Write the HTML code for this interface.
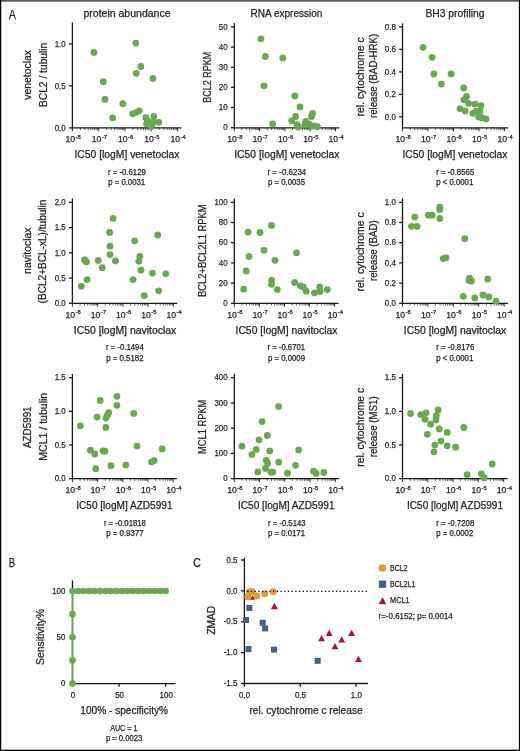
<!DOCTYPE html><html><head><meta charset="utf-8"><style>html,body{margin:0;padding:0;background:#fff;width:520px;height:751px;overflow:hidden}svg{display:block;will-change:transform;filter:blur(0.35px)}</style></head><body><svg width="520" height="751" viewBox="0 0 520 751" font-family="&quot;Liberation Sans&quot;, sans-serif" fill="#231f20" stroke="#231f20" stroke-width="0.25">
<rect x="0" y="0" width="520" height="751" fill="#fff" stroke="none"/>
<g stroke="none"><rect x="0" y="0" width="520" height="1.7" fill="#5c5c5c"/><rect x="0" y="0" width="1.25" height="751" fill="#000"/><rect x="518.9" y="0" width="1.1" height="751" fill="#000"/><rect x="0" y="749.7" width="520" height="1.3" fill="#000"/></g>
<text x="8.8" y="19.3" font-size="13.2" textLength="7.2" lengthAdjust="spacingAndGlyphs" stroke-width="0.25">A</text>
<text x="8.7" y="566.8" font-size="13.2" textLength="6.4" lengthAdjust="spacingAndGlyphs" stroke-width="0.25">B</text>
<text x="193.2" y="567.0" font-size="13.2" textLength="7.6" lengthAdjust="spacingAndGlyphs" stroke-width="0.25">C</text>
<text x="83.5" y="17.1" font-size="10.4" textLength="87" lengthAdjust="spacingAndGlyphs">protein abundance</text>
<text x="250.6" y="17.1" font-size="10.4" textLength="71.7" lengthAdjust="spacingAndGlyphs">RNA expression</text>
<text x="425.4" y="17.1" font-size="10.4" textLength="59.2" lengthAdjust="spacingAndGlyphs">BH3 profiling</text>
<line x1="72.4" y1="22.4" x2="72.4" y2="128.45000000000002" stroke="#1a1a1a" stroke-width="1.3"/>
<line x1="69.0" y1="43.9" x2="72.4" y2="43.9" stroke="#1a1a1a" stroke-width="1.3"/>
<text x="65.7" y="46.6" font-size="9.4" text-anchor="end" textLength="11.0" lengthAdjust="spacingAndGlyphs">1.0</text>
<line x1="69.0" y1="85.9" x2="72.4" y2="85.9" stroke="#1a1a1a" stroke-width="1.3"/>
<text x="65.7" y="88.60000000000001" font-size="9.4" text-anchor="end" textLength="11.0" lengthAdjust="spacingAndGlyphs">0.5</text>
<line x1="69.0" y1="127.9" x2="72.4" y2="127.9" stroke="#1a1a1a" stroke-width="1.3"/>
<text x="65.7" y="130.6" font-size="9.4" text-anchor="end" textLength="11.0" lengthAdjust="spacingAndGlyphs">0.0</text>
<line x1="71.85000000000001" y1="127.9" x2="181.3" y2="127.9" stroke="#1a1a1a" stroke-width="1.3"/>
<line x1="72.4" y1="127.9" x2="72.4" y2="131.3" stroke="#1a1a1a" stroke-width="0.9"/>
<line x1="80.3170888859627" y1="127.9" x2="80.3170888859627" y2="130.1" stroke="#1a1a1a" stroke-width="0.7"/>
<line x1="84.94828899912713" y1="127.9" x2="84.94828899912713" y2="130.1" stroke="#1a1a1a" stroke-width="0.7"/>
<line x1="88.23417777192542" y1="127.9" x2="88.23417777192542" y2="130.1" stroke="#1a1a1a" stroke-width="0.7"/>
<line x1="90.7829111140373" y1="127.9" x2="90.7829111140373" y2="130.1" stroke="#1a1a1a" stroke-width="0.7"/>
<line x1="92.86537788508983" y1="127.9" x2="92.86537788508983" y2="130.1" stroke="#1a1a1a" stroke-width="0.7"/>
<line x1="94.62607845237497" y1="127.9" x2="94.62607845237497" y2="130.1" stroke="#1a1a1a" stroke-width="0.7"/>
<line x1="96.15126665788813" y1="127.9" x2="96.15126665788813" y2="130.1" stroke="#1a1a1a" stroke-width="0.7"/>
<line x1="97.49657799825425" y1="127.9" x2="97.49657799825425" y2="130.1" stroke="#1a1a1a" stroke-width="0.7"/>
<text x="73.0" y="142.4" font-size="8.6" text-anchor="middle">10<tspan font-size="5.8" dx="0.5" dy="-3.6">-8</tspan></text>
<line x1="98.7" y1="127.9" x2="98.7" y2="131.3" stroke="#1a1a1a" stroke-width="0.9"/>
<line x1="106.61708888596272" y1="127.9" x2="106.61708888596272" y2="130.1" stroke="#1a1a1a" stroke-width="0.7"/>
<line x1="111.24828899912713" y1="127.9" x2="111.24828899912713" y2="130.1" stroke="#1a1a1a" stroke-width="0.7"/>
<line x1="114.53417777192541" y1="127.9" x2="114.53417777192541" y2="130.1" stroke="#1a1a1a" stroke-width="0.7"/>
<line x1="117.0829111140373" y1="127.9" x2="117.0829111140373" y2="130.1" stroke="#1a1a1a" stroke-width="0.7"/>
<line x1="119.16537788508984" y1="127.9" x2="119.16537788508984" y2="130.1" stroke="#1a1a1a" stroke-width="0.7"/>
<line x1="120.92607845237495" y1="127.9" x2="120.92607845237495" y2="130.1" stroke="#1a1a1a" stroke-width="0.7"/>
<line x1="122.45126665788811" y1="127.9" x2="122.45126665788811" y2="130.1" stroke="#1a1a1a" stroke-width="0.7"/>
<line x1="123.79657799825425" y1="127.9" x2="123.79657799825425" y2="130.1" stroke="#1a1a1a" stroke-width="0.7"/>
<text x="99.3" y="142.4" font-size="8.6" text-anchor="middle">10<tspan font-size="5.8" dx="0.5" dy="-3.6">-7</tspan></text>
<line x1="125.0" y1="127.9" x2="125.0" y2="131.3" stroke="#1a1a1a" stroke-width="0.9"/>
<line x1="132.9170888859627" y1="127.9" x2="132.9170888859627" y2="130.1" stroke="#1a1a1a" stroke-width="0.7"/>
<line x1="137.54828899912712" y1="127.9" x2="137.54828899912712" y2="130.1" stroke="#1a1a1a" stroke-width="0.7"/>
<line x1="140.8341777719254" y1="127.9" x2="140.8341777719254" y2="130.1" stroke="#1a1a1a" stroke-width="0.7"/>
<line x1="143.38291111403728" y1="127.9" x2="143.38291111403728" y2="130.1" stroke="#1a1a1a" stroke-width="0.7"/>
<line x1="145.46537788508982" y1="127.9" x2="145.46537788508982" y2="130.1" stroke="#1a1a1a" stroke-width="0.7"/>
<line x1="147.22607845237496" y1="127.9" x2="147.22607845237496" y2="130.1" stroke="#1a1a1a" stroke-width="0.7"/>
<line x1="148.75126665788812" y1="127.9" x2="148.75126665788812" y2="130.1" stroke="#1a1a1a" stroke-width="0.7"/>
<line x1="150.09657799825425" y1="127.9" x2="150.09657799825425" y2="130.1" stroke="#1a1a1a" stroke-width="0.7"/>
<text x="125.6" y="142.4" font-size="8.6" text-anchor="middle">10<tspan font-size="5.8" dx="0.5" dy="-3.6">-6</tspan></text>
<line x1="151.3" y1="127.9" x2="151.3" y2="131.3" stroke="#1a1a1a" stroke-width="0.9"/>
<line x1="159.2170888859627" y1="127.9" x2="159.2170888859627" y2="130.1" stroke="#1a1a1a" stroke-width="0.7"/>
<line x1="163.84828899912713" y1="127.9" x2="163.84828899912713" y2="130.1" stroke="#1a1a1a" stroke-width="0.7"/>
<line x1="167.1341777719254" y1="127.9" x2="167.1341777719254" y2="130.1" stroke="#1a1a1a" stroke-width="0.7"/>
<line x1="169.6829111140373" y1="127.9" x2="169.6829111140373" y2="130.1" stroke="#1a1a1a" stroke-width="0.7"/>
<line x1="171.76537788508983" y1="127.9" x2="171.76537788508983" y2="130.1" stroke="#1a1a1a" stroke-width="0.7"/>
<line x1="173.52607845237497" y1="127.9" x2="173.52607845237497" y2="130.1" stroke="#1a1a1a" stroke-width="0.7"/>
<line x1="175.05126665788814" y1="127.9" x2="175.05126665788814" y2="130.1" stroke="#1a1a1a" stroke-width="0.7"/>
<line x1="176.39657799825426" y1="127.9" x2="176.39657799825426" y2="130.1" stroke="#1a1a1a" stroke-width="0.7"/>
<text x="151.9" y="142.4" font-size="8.6" text-anchor="middle">10<tspan font-size="5.8" dx="0.5" dy="-3.6">-5</tspan></text>
<line x1="177.60000000000002" y1="127.9" x2="177.60000000000002" y2="131.3" stroke="#1a1a1a" stroke-width="0.9"/>
<text x="178.20000000000002" y="142.4" font-size="8.6" text-anchor="middle">10<tspan font-size="5.8" dx="0.5" dy="-3.6">-4</tspan></text>
<circle cx="93.9" cy="52.4" r="3.4" fill="#6aa653" stroke="none"/>
<circle cx="135.8" cy="43.1" r="3.4" fill="#6aa653" stroke="none"/>
<circle cx="140.8" cy="66.5" r="3.4" fill="#6aa653" stroke="none"/>
<circle cx="136.2" cy="73.3" r="3.4" fill="#6aa653" stroke="none"/>
<circle cx="152.9" cy="78.5" r="3.4" fill="#6aa653" stroke="none"/>
<circle cx="103.3" cy="81.7" r="3.4" fill="#6aa653" stroke="none"/>
<circle cx="105" cy="99.4" r="3.4" fill="#6aa653" stroke="none"/>
<circle cx="122.8" cy="103.7" r="3.4" fill="#6aa653" stroke="none"/>
<circle cx="112.7" cy="117.8" r="3.4" fill="#6aa653" stroke="none"/>
<circle cx="132.7" cy="113.8" r="3.4" fill="#6aa653" stroke="none"/>
<circle cx="136.5" cy="112.3" r="3.4" fill="#6aa653" stroke="none"/>
<circle cx="139.2" cy="110.8" r="3.4" fill="#6aa653" stroke="none"/>
<circle cx="145.8" cy="117.7" r="3.4" fill="#6aa653" stroke="none"/>
<circle cx="153.8" cy="116.5" r="3.4" fill="#6aa653" stroke="none"/>
<circle cx="158.8" cy="122.3" r="3.4" fill="#6aa653" stroke="none"/>
<circle cx="148.1" cy="121.5" r="3.4" fill="#6aa653" stroke="none"/>
<circle cx="151.9" cy="123" r="3.4" fill="#6aa653" stroke="none"/>
<circle cx="150.4" cy="125.4" r="3.4" fill="#6aa653" stroke="none"/>
<circle cx="146.5" cy="123.8" r="3.4" fill="#6aa653" stroke="none"/>
<circle cx="154.2" cy="122.3" r="3.4" fill="#6aa653" stroke="none"/>
<circle cx="151.5" cy="126.5" r="3.4" fill="#6aa653" stroke="none"/>
<line x1="234.3" y1="23.0" x2="234.3" y2="128.45000000000002" stroke="#1a1a1a" stroke-width="1.3"/>
<line x1="230.9" y1="26.9" x2="234.3" y2="26.9" stroke="#1a1a1a" stroke-width="1.3"/>
<text x="227.60000000000002" y="29.599999999999998" font-size="9.4" text-anchor="end" textLength="8.8" lengthAdjust="spacingAndGlyphs">50</text>
<line x1="230.9" y1="47.1" x2="234.3" y2="47.1" stroke="#1a1a1a" stroke-width="1.3"/>
<text x="227.60000000000002" y="49.800000000000004" font-size="9.4" text-anchor="end" textLength="8.8" lengthAdjust="spacingAndGlyphs">40</text>
<line x1="230.9" y1="67.3" x2="234.3" y2="67.3" stroke="#1a1a1a" stroke-width="1.3"/>
<text x="227.60000000000002" y="70.0" font-size="9.4" text-anchor="end" textLength="8.8" lengthAdjust="spacingAndGlyphs">30</text>
<line x1="230.9" y1="87.3" x2="234.3" y2="87.3" stroke="#1a1a1a" stroke-width="1.3"/>
<text x="227.60000000000002" y="90.0" font-size="9.4" text-anchor="end" textLength="8.8" lengthAdjust="spacingAndGlyphs">20</text>
<line x1="230.9" y1="107.5" x2="234.3" y2="107.5" stroke="#1a1a1a" stroke-width="1.3"/>
<text x="227.60000000000002" y="110.2" font-size="9.4" text-anchor="end" textLength="8.8" lengthAdjust="spacingAndGlyphs">10</text>
<line x1="230.9" y1="127.7" x2="234.3" y2="127.7" stroke="#1a1a1a" stroke-width="1.3"/>
<text x="227.60000000000002" y="130.4" font-size="9.4" text-anchor="end" textLength="4.4" lengthAdjust="spacingAndGlyphs">0</text>
<line x1="233.75" y1="127.9" x2="339.3" y2="127.9" stroke="#1a1a1a" stroke-width="1.3"/>
<line x1="234.3" y1="127.9" x2="234.3" y2="131.3" stroke="#1a1a1a" stroke-width="0.9"/>
<line x1="241.91605889029873" y1="127.9" x2="241.91605889029873" y2="130.1" stroke="#1a1a1a" stroke-width="0.7"/>
<line x1="246.37116774440747" y1="127.9" x2="246.37116774440747" y2="130.1" stroke="#1a1a1a" stroke-width="0.7"/>
<line x1="249.53211778059745" y1="127.9" x2="249.53211778059745" y2="130.1" stroke="#1a1a1a" stroke-width="0.7"/>
<line x1="251.98394110970128" y1="127.9" x2="251.98394110970128" y2="130.1" stroke="#1a1a1a" stroke-width="0.7"/>
<line x1="253.9872266347062" y1="127.9" x2="253.9872266347062" y2="130.1" stroke="#1a1a1a" stroke-width="0.7"/>
<line x1="255.68098041236073" y1="127.9" x2="255.68098041236073" y2="130.1" stroke="#1a1a1a" stroke-width="0.7"/>
<line x1="257.1481766708962" y1="127.9" x2="257.1481766708962" y2="130.1" stroke="#1a1a1a" stroke-width="0.7"/>
<line x1="258.44233548881493" y1="127.9" x2="258.44233548881493" y2="130.1" stroke="#1a1a1a" stroke-width="0.7"/>
<text x="234.9" y="142.4" font-size="8.6" text-anchor="middle">10<tspan font-size="5.8" dx="0.5" dy="-3.6">-8</tspan></text>
<line x1="259.6" y1="127.9" x2="259.6" y2="131.3" stroke="#1a1a1a" stroke-width="0.9"/>
<line x1="267.21605889029877" y1="127.9" x2="267.21605889029877" y2="130.1" stroke="#1a1a1a" stroke-width="0.7"/>
<line x1="271.67116774440746" y1="127.9" x2="271.67116774440746" y2="130.1" stroke="#1a1a1a" stroke-width="0.7"/>
<line x1="274.83211778059746" y1="127.9" x2="274.83211778059746" y2="130.1" stroke="#1a1a1a" stroke-width="0.7"/>
<line x1="277.2839411097013" y1="127.9" x2="277.2839411097013" y2="130.1" stroke="#1a1a1a" stroke-width="0.7"/>
<line x1="279.2872266347062" y1="127.9" x2="279.2872266347062" y2="130.1" stroke="#1a1a1a" stroke-width="0.7"/>
<line x1="280.98098041236074" y1="127.9" x2="280.98098041236074" y2="130.1" stroke="#1a1a1a" stroke-width="0.7"/>
<line x1="282.4481766708962" y1="127.9" x2="282.4481766708962" y2="130.1" stroke="#1a1a1a" stroke-width="0.7"/>
<line x1="283.74233548881494" y1="127.9" x2="283.74233548881494" y2="130.1" stroke="#1a1a1a" stroke-width="0.7"/>
<text x="260.20000000000005" y="142.4" font-size="8.6" text-anchor="middle">10<tspan font-size="5.8" dx="0.5" dy="-3.6">-7</tspan></text>
<line x1="284.90000000000003" y1="127.9" x2="284.90000000000003" y2="131.3" stroke="#1a1a1a" stroke-width="0.9"/>
<line x1="292.5160588902988" y1="127.9" x2="292.5160588902988" y2="130.1" stroke="#1a1a1a" stroke-width="0.7"/>
<line x1="296.97116774440747" y1="127.9" x2="296.97116774440747" y2="130.1" stroke="#1a1a1a" stroke-width="0.7"/>
<line x1="300.13211778059747" y1="127.9" x2="300.13211778059747" y2="130.1" stroke="#1a1a1a" stroke-width="0.7"/>
<line x1="302.5839411097013" y1="127.9" x2="302.5839411097013" y2="130.1" stroke="#1a1a1a" stroke-width="0.7"/>
<line x1="304.5872266347062" y1="127.9" x2="304.5872266347062" y2="130.1" stroke="#1a1a1a" stroke-width="0.7"/>
<line x1="306.28098041236075" y1="127.9" x2="306.28098041236075" y2="130.1" stroke="#1a1a1a" stroke-width="0.7"/>
<line x1="307.7481766708962" y1="127.9" x2="307.7481766708962" y2="130.1" stroke="#1a1a1a" stroke-width="0.7"/>
<line x1="309.04233548881496" y1="127.9" x2="309.04233548881496" y2="130.1" stroke="#1a1a1a" stroke-width="0.7"/>
<text x="285.50000000000006" y="142.4" font-size="8.6" text-anchor="middle">10<tspan font-size="5.8" dx="0.5" dy="-3.6">-6</tspan></text>
<line x1="310.20000000000005" y1="127.9" x2="310.20000000000005" y2="131.3" stroke="#1a1a1a" stroke-width="0.9"/>
<line x1="317.8160588902988" y1="127.9" x2="317.8160588902988" y2="130.1" stroke="#1a1a1a" stroke-width="0.7"/>
<line x1="322.2711677444075" y1="127.9" x2="322.2711677444075" y2="130.1" stroke="#1a1a1a" stroke-width="0.7"/>
<line x1="325.4321177805975" y1="127.9" x2="325.4321177805975" y2="130.1" stroke="#1a1a1a" stroke-width="0.7"/>
<line x1="327.8839411097013" y1="127.9" x2="327.8839411097013" y2="130.1" stroke="#1a1a1a" stroke-width="0.7"/>
<line x1="329.8872266347062" y1="127.9" x2="329.8872266347062" y2="130.1" stroke="#1a1a1a" stroke-width="0.7"/>
<line x1="331.58098041236076" y1="127.9" x2="331.58098041236076" y2="130.1" stroke="#1a1a1a" stroke-width="0.7"/>
<line x1="333.0481766708962" y1="127.9" x2="333.0481766708962" y2="130.1" stroke="#1a1a1a" stroke-width="0.7"/>
<line x1="334.34233548881497" y1="127.9" x2="334.34233548881497" y2="130.1" stroke="#1a1a1a" stroke-width="0.7"/>
<text x="310.80000000000007" y="142.4" font-size="8.6" text-anchor="middle">10<tspan font-size="5.8" dx="0.5" dy="-3.6">-5</tspan></text>
<line x1="335.5" y1="127.9" x2="335.5" y2="131.3" stroke="#1a1a1a" stroke-width="0.9"/>
<text x="336.1" y="142.4" font-size="8.6" text-anchor="middle">10<tspan font-size="5.8" dx="0.5" dy="-3.6">-4</tspan></text>
<circle cx="261" cy="38.8" r="3.4" fill="#6aa653" stroke="none"/>
<circle cx="265.4" cy="56.5" r="3.4" fill="#6aa653" stroke="none"/>
<circle cx="282.7" cy="57.9" r="3.4" fill="#6aa653" stroke="none"/>
<circle cx="264" cy="85.8" r="3.4" fill="#6aa653" stroke="none"/>
<circle cx="294.8" cy="96" r="3.4" fill="#6aa653" stroke="none"/>
<circle cx="300" cy="106.9" r="3.4" fill="#6aa653" stroke="none"/>
<circle cx="312.5" cy="113.3" r="3.4" fill="#6aa653" stroke="none"/>
<circle cx="311.5" cy="116.5" r="3.4" fill="#6aa653" stroke="none"/>
<circle cx="295.6" cy="116.5" r="3.4" fill="#6aa653" stroke="none"/>
<circle cx="291.7" cy="120.8" r="3.4" fill="#6aa653" stroke="none"/>
<circle cx="272.7" cy="123.9" r="3.4" fill="#6aa653" stroke="none"/>
<circle cx="297.1" cy="124.6" r="3.4" fill="#6aa653" stroke="none"/>
<circle cx="298" cy="127" r="3.4" fill="#6aa653" stroke="none"/>
<circle cx="305.8" cy="121.3" r="3.4" fill="#6aa653" stroke="none"/>
<circle cx="304.8" cy="125.2" r="3.4" fill="#6aa653" stroke="none"/>
<circle cx="308.7" cy="124.2" r="3.4" fill="#6aa653" stroke="none"/>
<circle cx="311.5" cy="126.2" r="3.4" fill="#6aa653" stroke="none"/>
<circle cx="314.4" cy="125.8" r="3.4" fill="#6aa653" stroke="none"/>
<circle cx="317.3" cy="126.7" r="3.4" fill="#6aa653" stroke="none"/>
<line x1="402.5" y1="23.4" x2="402.5" y2="128.45000000000002" stroke="#1a1a1a" stroke-width="1.3"/>
<line x1="399.1" y1="26.9" x2="402.5" y2="26.9" stroke="#1a1a1a" stroke-width="1.3"/>
<text x="395.8" y="29.599999999999998" font-size="9.4" text-anchor="end" textLength="11.0" lengthAdjust="spacingAndGlyphs">0.8</text>
<line x1="399.1" y1="49.4" x2="402.5" y2="49.4" stroke="#1a1a1a" stroke-width="1.3"/>
<text x="395.8" y="52.1" font-size="9.4" text-anchor="end" textLength="11.0" lengthAdjust="spacingAndGlyphs">0.6</text>
<line x1="399.1" y1="71.9" x2="402.5" y2="71.9" stroke="#1a1a1a" stroke-width="1.3"/>
<text x="395.8" y="74.60000000000001" font-size="9.4" text-anchor="end" textLength="11.0" lengthAdjust="spacingAndGlyphs">0.4</text>
<line x1="399.1" y1="94.4" x2="402.5" y2="94.4" stroke="#1a1a1a" stroke-width="1.3"/>
<text x="395.8" y="97.10000000000001" font-size="9.4" text-anchor="end" textLength="11.0" lengthAdjust="spacingAndGlyphs">0.2</text>
<line x1="399.1" y1="116.9" x2="402.5" y2="116.9" stroke="#1a1a1a" stroke-width="1.3"/>
<text x="395.8" y="119.60000000000001" font-size="9.4" text-anchor="end" textLength="11.0" lengthAdjust="spacingAndGlyphs">0.0</text>
<line x1="401.95" y1="127.9" x2="508.3" y2="127.9" stroke="#1a1a1a" stroke-width="1.3"/>
<line x1="402.5" y1="127.9" x2="402.5" y2="131.3" stroke="#1a1a1a" stroke-width="0.9"/>
<line x1="410.17626488943154" y1="127.9" x2="410.17626488943154" y2="130.1" stroke="#1a1a1a" stroke-width="0.7"/>
<line x1="414.6665919953514" y1="127.9" x2="414.6665919953514" y2="130.1" stroke="#1a1a1a" stroke-width="0.7"/>
<line x1="417.852529778863" y1="127.9" x2="417.852529778863" y2="130.1" stroke="#1a1a1a" stroke-width="0.7"/>
<line x1="420.32373511056846" y1="127.9" x2="420.32373511056846" y2="130.1" stroke="#1a1a1a" stroke-width="0.7"/>
<line x1="422.3428568847829" y1="127.9" x2="422.3428568847829" y2="130.1" stroke="#1a1a1a" stroke-width="0.7"/>
<line x1="424.05000002036354" y1="127.9" x2="424.05000002036354" y2="130.1" stroke="#1a1a1a" stroke-width="0.7"/>
<line x1="425.52879466829455" y1="127.9" x2="425.52879466829455" y2="130.1" stroke="#1a1a1a" stroke-width="0.7"/>
<line x1="426.83318399070276" y1="127.9" x2="426.83318399070276" y2="130.1" stroke="#1a1a1a" stroke-width="0.7"/>
<text x="403.1" y="142.4" font-size="8.6" text-anchor="middle">10<tspan font-size="5.8" dx="0.5" dy="-3.6">-8</tspan></text>
<line x1="428.0" y1="127.9" x2="428.0" y2="131.3" stroke="#1a1a1a" stroke-width="0.9"/>
<line x1="435.67626488943154" y1="127.9" x2="435.67626488943154" y2="130.1" stroke="#1a1a1a" stroke-width="0.7"/>
<line x1="440.1665919953514" y1="127.9" x2="440.1665919953514" y2="130.1" stroke="#1a1a1a" stroke-width="0.7"/>
<line x1="443.352529778863" y1="127.9" x2="443.352529778863" y2="130.1" stroke="#1a1a1a" stroke-width="0.7"/>
<line x1="445.82373511056846" y1="127.9" x2="445.82373511056846" y2="130.1" stroke="#1a1a1a" stroke-width="0.7"/>
<line x1="447.8428568847829" y1="127.9" x2="447.8428568847829" y2="130.1" stroke="#1a1a1a" stroke-width="0.7"/>
<line x1="449.55000002036354" y1="127.9" x2="449.55000002036354" y2="130.1" stroke="#1a1a1a" stroke-width="0.7"/>
<line x1="451.02879466829455" y1="127.9" x2="451.02879466829455" y2="130.1" stroke="#1a1a1a" stroke-width="0.7"/>
<line x1="452.33318399070276" y1="127.9" x2="452.33318399070276" y2="130.1" stroke="#1a1a1a" stroke-width="0.7"/>
<text x="428.6" y="142.4" font-size="8.6" text-anchor="middle">10<tspan font-size="5.8" dx="0.5" dy="-3.6">-7</tspan></text>
<line x1="453.5" y1="127.9" x2="453.5" y2="131.3" stroke="#1a1a1a" stroke-width="0.9"/>
<line x1="461.17626488943154" y1="127.9" x2="461.17626488943154" y2="130.1" stroke="#1a1a1a" stroke-width="0.7"/>
<line x1="465.6665919953514" y1="127.9" x2="465.6665919953514" y2="130.1" stroke="#1a1a1a" stroke-width="0.7"/>
<line x1="468.852529778863" y1="127.9" x2="468.852529778863" y2="130.1" stroke="#1a1a1a" stroke-width="0.7"/>
<line x1="471.32373511056846" y1="127.9" x2="471.32373511056846" y2="130.1" stroke="#1a1a1a" stroke-width="0.7"/>
<line x1="473.3428568847829" y1="127.9" x2="473.3428568847829" y2="130.1" stroke="#1a1a1a" stroke-width="0.7"/>
<line x1="475.05000002036354" y1="127.9" x2="475.05000002036354" y2="130.1" stroke="#1a1a1a" stroke-width="0.7"/>
<line x1="476.52879466829455" y1="127.9" x2="476.52879466829455" y2="130.1" stroke="#1a1a1a" stroke-width="0.7"/>
<line x1="477.83318399070276" y1="127.9" x2="477.83318399070276" y2="130.1" stroke="#1a1a1a" stroke-width="0.7"/>
<text x="454.1" y="142.4" font-size="8.6" text-anchor="middle">10<tspan font-size="5.8" dx="0.5" dy="-3.6">-6</tspan></text>
<line x1="479.0" y1="127.9" x2="479.0" y2="131.3" stroke="#1a1a1a" stroke-width="0.9"/>
<line x1="486.67626488943154" y1="127.9" x2="486.67626488943154" y2="130.1" stroke="#1a1a1a" stroke-width="0.7"/>
<line x1="491.1665919953514" y1="127.9" x2="491.1665919953514" y2="130.1" stroke="#1a1a1a" stroke-width="0.7"/>
<line x1="494.352529778863" y1="127.9" x2="494.352529778863" y2="130.1" stroke="#1a1a1a" stroke-width="0.7"/>
<line x1="496.82373511056846" y1="127.9" x2="496.82373511056846" y2="130.1" stroke="#1a1a1a" stroke-width="0.7"/>
<line x1="498.8428568847829" y1="127.9" x2="498.8428568847829" y2="130.1" stroke="#1a1a1a" stroke-width="0.7"/>
<line x1="500.55000002036354" y1="127.9" x2="500.55000002036354" y2="130.1" stroke="#1a1a1a" stroke-width="0.7"/>
<line x1="502.02879466829455" y1="127.9" x2="502.02879466829455" y2="130.1" stroke="#1a1a1a" stroke-width="0.7"/>
<line x1="503.33318399070276" y1="127.9" x2="503.33318399070276" y2="130.1" stroke="#1a1a1a" stroke-width="0.7"/>
<text x="479.6" y="142.4" font-size="8.6" text-anchor="middle">10<tspan font-size="5.8" dx="0.5" dy="-3.6">-5</tspan></text>
<line x1="504.5" y1="127.9" x2="504.5" y2="131.3" stroke="#1a1a1a" stroke-width="0.9"/>
<text x="505.1" y="142.4" font-size="8.6" text-anchor="middle">10<tspan font-size="5.8" dx="0.5" dy="-3.6">-4</tspan></text>
<circle cx="423.1" cy="47.3" r="3.4" fill="#6aa653" stroke="none"/>
<circle cx="432.1" cy="57.3" r="3.4" fill="#6aa653" stroke="none"/>
<circle cx="433.8" cy="74" r="3.4" fill="#6aa653" stroke="none"/>
<circle cx="451.1" cy="73.9" r="3.4" fill="#6aa653" stroke="none"/>
<circle cx="441.4" cy="84.1" r="3.4" fill="#6aa653" stroke="none"/>
<circle cx="463.7" cy="87.9" r="3.4" fill="#6aa653" stroke="none"/>
<circle cx="466.5" cy="96.5" r="3.4" fill="#6aa653" stroke="none"/>
<circle cx="463.8" cy="99.8" r="3.4" fill="#6aa653" stroke="none"/>
<circle cx="468.5" cy="103.3" r="3.4" fill="#6aa653" stroke="none"/>
<circle cx="474.8" cy="104.2" r="3.4" fill="#6aa653" stroke="none"/>
<circle cx="481" cy="105.6" r="3.4" fill="#6aa653" stroke="none"/>
<circle cx="460" cy="108.8" r="3.4" fill="#6aa653" stroke="none"/>
<circle cx="465.2" cy="111" r="3.4" fill="#6aa653" stroke="none"/>
<circle cx="472.9" cy="113.3" r="3.4" fill="#6aa653" stroke="none"/>
<circle cx="475.8" cy="111.3" r="3.4" fill="#6aa653" stroke="none"/>
<circle cx="480" cy="111" r="3.4" fill="#6aa653" stroke="none"/>
<circle cx="478.7" cy="117.1" r="3.4" fill="#6aa653" stroke="none"/>
<circle cx="481.9" cy="117.7" r="3.4" fill="#6aa653" stroke="none"/>
<circle cx="486" cy="119" r="3.4" fill="#6aa653" stroke="none"/>
<line x1="72.4" y1="198.4" x2="72.4" y2="303.85" stroke="#1a1a1a" stroke-width="1.3"/>
<line x1="69.0" y1="202.3" x2="72.4" y2="202.3" stroke="#1a1a1a" stroke-width="1.3"/>
<text x="65.7" y="205.0" font-size="9.4" text-anchor="end" textLength="11.0" lengthAdjust="spacingAndGlyphs">2.0</text>
<line x1="69.0" y1="227.6" x2="72.4" y2="227.6" stroke="#1a1a1a" stroke-width="1.3"/>
<text x="65.7" y="230.29999999999998" font-size="9.4" text-anchor="end" textLength="11.0" lengthAdjust="spacingAndGlyphs">1.5</text>
<line x1="69.0" y1="252.8" x2="72.4" y2="252.8" stroke="#1a1a1a" stroke-width="1.3"/>
<text x="65.7" y="255.5" font-size="9.4" text-anchor="end" textLength="11.0" lengthAdjust="spacingAndGlyphs">1.0</text>
<line x1="69.0" y1="278.1" x2="72.4" y2="278.1" stroke="#1a1a1a" stroke-width="1.3"/>
<text x="65.7" y="280.8" font-size="9.4" text-anchor="end" textLength="11.0" lengthAdjust="spacingAndGlyphs">0.5</text>
<line x1="69.0" y1="303.3" x2="72.4" y2="303.3" stroke="#1a1a1a" stroke-width="1.3"/>
<text x="65.7" y="306.0" font-size="9.4" text-anchor="end" textLength="11.0" lengthAdjust="spacingAndGlyphs">0.0</text>
<line x1="71.85000000000001" y1="303.3" x2="177.20000000000002" y2="303.3" stroke="#1a1a1a" stroke-width="1.3"/>
<line x1="72.4" y1="303.3" x2="72.4" y2="306.7" stroke="#1a1a1a" stroke-width="0.9"/>
<line x1="80.00100739051553" y1="303.3" x2="80.00100739051553" y2="305.5" stroke="#1a1a1a" stroke-width="0.7"/>
<line x1="84.44731168167148" y1="303.3" x2="84.44731168167148" y2="305.5" stroke="#1a1a1a" stroke-width="0.7"/>
<line x1="87.60201478103106" y1="303.3" x2="87.60201478103106" y2="305.5" stroke="#1a1a1a" stroke-width="0.7"/>
<line x1="90.04899260948449" y1="303.3" x2="90.04899260948449" y2="305.5" stroke="#1a1a1a" stroke-width="0.7"/>
<line x1="92.04831907218701" y1="303.3" x2="92.04831907218701" y2="305.5" stroke="#1a1a1a" stroke-width="0.7"/>
<line x1="93.73872551035998" y1="303.3" x2="93.73872551035998" y2="305.5" stroke="#1a1a1a" stroke-width="0.7"/>
<line x1="95.20302217154658" y1="303.3" x2="95.20302217154658" y2="305.5" stroke="#1a1a1a" stroke-width="0.7"/>
<line x1="96.49462336334295" y1="303.3" x2="96.49462336334295" y2="305.5" stroke="#1a1a1a" stroke-width="0.7"/>
<text x="73.0" y="317.8" font-size="8.6" text-anchor="middle">10<tspan font-size="5.8" dx="0.5" dy="-3.6">-8</tspan></text>
<line x1="97.65" y1="303.3" x2="97.65" y2="306.7" stroke="#1a1a1a" stroke-width="0.9"/>
<line x1="105.25100739051553" y1="303.3" x2="105.25100739051553" y2="305.5" stroke="#1a1a1a" stroke-width="0.7"/>
<line x1="109.69731168167148" y1="303.3" x2="109.69731168167148" y2="305.5" stroke="#1a1a1a" stroke-width="0.7"/>
<line x1="112.85201478103106" y1="303.3" x2="112.85201478103106" y2="305.5" stroke="#1a1a1a" stroke-width="0.7"/>
<line x1="115.29899260948449" y1="303.3" x2="115.29899260948449" y2="305.5" stroke="#1a1a1a" stroke-width="0.7"/>
<line x1="117.29831907218701" y1="303.3" x2="117.29831907218701" y2="305.5" stroke="#1a1a1a" stroke-width="0.7"/>
<line x1="118.98872551035998" y1="303.3" x2="118.98872551035998" y2="305.5" stroke="#1a1a1a" stroke-width="0.7"/>
<line x1="120.45302217154658" y1="303.3" x2="120.45302217154658" y2="305.5" stroke="#1a1a1a" stroke-width="0.7"/>
<line x1="121.74462336334295" y1="303.3" x2="121.74462336334295" y2="305.5" stroke="#1a1a1a" stroke-width="0.7"/>
<text x="98.25" y="317.8" font-size="8.6" text-anchor="middle">10<tspan font-size="5.8" dx="0.5" dy="-3.6">-7</tspan></text>
<line x1="122.9" y1="303.3" x2="122.9" y2="306.7" stroke="#1a1a1a" stroke-width="0.9"/>
<line x1="130.50100739051553" y1="303.3" x2="130.50100739051553" y2="305.5" stroke="#1a1a1a" stroke-width="0.7"/>
<line x1="134.9473116816715" y1="303.3" x2="134.9473116816715" y2="305.5" stroke="#1a1a1a" stroke-width="0.7"/>
<line x1="138.10201478103104" y1="303.3" x2="138.10201478103104" y2="305.5" stroke="#1a1a1a" stroke-width="0.7"/>
<line x1="140.5489926094845" y1="303.3" x2="140.5489926094845" y2="305.5" stroke="#1a1a1a" stroke-width="0.7"/>
<line x1="142.548319072187" y1="303.3" x2="142.548319072187" y2="305.5" stroke="#1a1a1a" stroke-width="0.7"/>
<line x1="144.23872551035998" y1="303.3" x2="144.23872551035998" y2="305.5" stroke="#1a1a1a" stroke-width="0.7"/>
<line x1="145.7030221715466" y1="303.3" x2="145.7030221715466" y2="305.5" stroke="#1a1a1a" stroke-width="0.7"/>
<line x1="146.99462336334295" y1="303.3" x2="146.99462336334295" y2="305.5" stroke="#1a1a1a" stroke-width="0.7"/>
<text x="123.5" y="317.8" font-size="8.6" text-anchor="middle">10<tspan font-size="5.8" dx="0.5" dy="-3.6">-6</tspan></text>
<line x1="148.15" y1="303.3" x2="148.15" y2="306.7" stroke="#1a1a1a" stroke-width="0.9"/>
<line x1="155.75100739051553" y1="303.3" x2="155.75100739051553" y2="305.5" stroke="#1a1a1a" stroke-width="0.7"/>
<line x1="160.1973116816715" y1="303.3" x2="160.1973116816715" y2="305.5" stroke="#1a1a1a" stroke-width="0.7"/>
<line x1="163.35201478103104" y1="303.3" x2="163.35201478103104" y2="305.5" stroke="#1a1a1a" stroke-width="0.7"/>
<line x1="165.7989926094845" y1="303.3" x2="165.7989926094845" y2="305.5" stroke="#1a1a1a" stroke-width="0.7"/>
<line x1="167.798319072187" y1="303.3" x2="167.798319072187" y2="305.5" stroke="#1a1a1a" stroke-width="0.7"/>
<line x1="169.48872551035998" y1="303.3" x2="169.48872551035998" y2="305.5" stroke="#1a1a1a" stroke-width="0.7"/>
<line x1="170.9530221715466" y1="303.3" x2="170.9530221715466" y2="305.5" stroke="#1a1a1a" stroke-width="0.7"/>
<line x1="172.24462336334295" y1="303.3" x2="172.24462336334295" y2="305.5" stroke="#1a1a1a" stroke-width="0.7"/>
<text x="148.75" y="317.8" font-size="8.6" text-anchor="middle">10<tspan font-size="5.8" dx="0.5" dy="-3.6">-5</tspan></text>
<line x1="173.4" y1="303.3" x2="173.4" y2="306.7" stroke="#1a1a1a" stroke-width="0.9"/>
<text x="174.0" y="317.8" font-size="8.6" text-anchor="middle">10<tspan font-size="5.8" dx="0.5" dy="-3.6">-4</tspan></text>
<circle cx="113.1" cy="218.4" r="3.4" fill="#6aa653" stroke="none"/>
<circle cx="109.6" cy="232.4" r="3.4" fill="#6aa653" stroke="none"/>
<circle cx="157.7" cy="235" r="3.4" fill="#6aa653" stroke="none"/>
<circle cx="134.6" cy="240.8" r="3.4" fill="#6aa653" stroke="none"/>
<circle cx="110" cy="246.2" r="3.4" fill="#6aa653" stroke="none"/>
<circle cx="110" cy="254.6" r="3.4" fill="#6aa653" stroke="none"/>
<circle cx="115.4" cy="261" r="3.4" fill="#6aa653" stroke="none"/>
<circle cx="102.2" cy="267.7" r="3.4" fill="#6aa653" stroke="none"/>
<circle cx="139.8" cy="256.3" r="3.4" fill="#6aa653" stroke="none"/>
<circle cx="138.8" cy="261.3" r="3.4" fill="#6aa653" stroke="none"/>
<circle cx="141" cy="270.2" r="3.4" fill="#6aa653" stroke="none"/>
<circle cx="152.5" cy="273.1" r="3.4" fill="#6aa653" stroke="none"/>
<circle cx="165.8" cy="273.8" r="3.4" fill="#6aa653" stroke="none"/>
<circle cx="133.1" cy="279.6" r="3.4" fill="#6aa653" stroke="none"/>
<circle cx="158.7" cy="290.8" r="3.4" fill="#6aa653" stroke="none"/>
<circle cx="144.2" cy="295.6" r="3.4" fill="#6aa653" stroke="none"/>
<circle cx="98.3" cy="260.4" r="3.4" fill="#6aa653" stroke="none"/>
<circle cx="84.6" cy="260" r="3.4" fill="#6aa653" stroke="none"/>
<circle cx="86.5" cy="261.9" r="3.4" fill="#6aa653" stroke="none"/>
<circle cx="87.1" cy="279.6" r="3.4" fill="#6aa653" stroke="none"/>
<circle cx="81.3" cy="286.3" r="3.4" fill="#6aa653" stroke="none"/>
<line x1="234.3" y1="198.4" x2="234.3" y2="303.85" stroke="#1a1a1a" stroke-width="1.3"/>
<line x1="230.9" y1="202.3" x2="234.3" y2="202.3" stroke="#1a1a1a" stroke-width="1.3"/>
<text x="227.60000000000002" y="205.0" font-size="9.4" text-anchor="end" textLength="13.2" lengthAdjust="spacingAndGlyphs">100</text>
<line x1="230.9" y1="222.5" x2="234.3" y2="222.5" stroke="#1a1a1a" stroke-width="1.3"/>
<text x="227.60000000000002" y="225.2" font-size="9.4" text-anchor="end" textLength="8.8" lengthAdjust="spacingAndGlyphs">80</text>
<line x1="230.9" y1="242.7" x2="234.3" y2="242.7" stroke="#1a1a1a" stroke-width="1.3"/>
<text x="227.60000000000002" y="245.39999999999998" font-size="9.4" text-anchor="end" textLength="8.8" lengthAdjust="spacingAndGlyphs">60</text>
<line x1="230.9" y1="262.9" x2="234.3" y2="262.9" stroke="#1a1a1a" stroke-width="1.3"/>
<text x="227.60000000000002" y="265.59999999999997" font-size="9.4" text-anchor="end" textLength="8.8" lengthAdjust="spacingAndGlyphs">40</text>
<line x1="230.9" y1="283.1" x2="234.3" y2="283.1" stroke="#1a1a1a" stroke-width="1.3"/>
<text x="227.60000000000002" y="285.8" font-size="9.4" text-anchor="end" textLength="8.8" lengthAdjust="spacingAndGlyphs">20</text>
<line x1="230.9" y1="303.3" x2="234.3" y2="303.3" stroke="#1a1a1a" stroke-width="1.3"/>
<text x="227.60000000000002" y="306.0" font-size="9.4" text-anchor="end" textLength="4.4" lengthAdjust="spacingAndGlyphs">0</text>
<line x1="233.75" y1="303.3" x2="338.50000000000006" y2="303.3" stroke="#1a1a1a" stroke-width="1.3"/>
<line x1="234.3" y1="303.3" x2="234.3" y2="306.7" stroke="#1a1a1a" stroke-width="0.9"/>
<line x1="241.85585289116594" y1="303.3" x2="241.85585289116594" y2="305.5" stroke="#1a1a1a" stroke-width="0.7"/>
<line x1="246.27574349346355" y1="303.3" x2="246.27574349346355" y2="305.5" stroke="#1a1a1a" stroke-width="0.7"/>
<line x1="249.41170578233186" y1="303.3" x2="249.41170578233186" y2="305.5" stroke="#1a1a1a" stroke-width="0.7"/>
<line x1="251.84414710883408" y1="303.3" x2="251.84414710883408" y2="305.5" stroke="#1a1a1a" stroke-width="0.7"/>
<line x1="253.83159638462948" y1="303.3" x2="253.83159638462948" y2="305.5" stroke="#1a1a1a" stroke-width="0.7"/>
<line x1="255.51196080435787" y1="303.3" x2="255.51196080435787" y2="305.5" stroke="#1a1a1a" stroke-width="0.7"/>
<line x1="256.9675586734978" y1="303.3" x2="256.9675586734978" y2="305.5" stroke="#1a1a1a" stroke-width="0.7"/>
<line x1="258.2514869869271" y1="303.3" x2="258.2514869869271" y2="305.5" stroke="#1a1a1a" stroke-width="0.7"/>
<text x="234.9" y="317.8" font-size="8.6" text-anchor="middle">10<tspan font-size="5.8" dx="0.5" dy="-3.6">-8</tspan></text>
<line x1="259.40000000000003" y1="303.3" x2="259.40000000000003" y2="306.7" stroke="#1a1a1a" stroke-width="0.9"/>
<line x1="266.955852891166" y1="303.3" x2="266.955852891166" y2="305.5" stroke="#1a1a1a" stroke-width="0.7"/>
<line x1="271.3757434934636" y1="303.3" x2="271.3757434934636" y2="305.5" stroke="#1a1a1a" stroke-width="0.7"/>
<line x1="274.5117057823319" y1="303.3" x2="274.5117057823319" y2="305.5" stroke="#1a1a1a" stroke-width="0.7"/>
<line x1="276.9441471088341" y1="303.3" x2="276.9441471088341" y2="305.5" stroke="#1a1a1a" stroke-width="0.7"/>
<line x1="278.9315963846295" y1="303.3" x2="278.9315963846295" y2="305.5" stroke="#1a1a1a" stroke-width="0.7"/>
<line x1="280.61196080435786" y1="303.3" x2="280.61196080435786" y2="305.5" stroke="#1a1a1a" stroke-width="0.7"/>
<line x1="282.06755867349784" y1="303.3" x2="282.06755867349784" y2="305.5" stroke="#1a1a1a" stroke-width="0.7"/>
<line x1="283.3514869869271" y1="303.3" x2="283.3514869869271" y2="305.5" stroke="#1a1a1a" stroke-width="0.7"/>
<text x="260.00000000000006" y="317.8" font-size="8.6" text-anchor="middle">10<tspan font-size="5.8" dx="0.5" dy="-3.6">-7</tspan></text>
<line x1="284.5" y1="303.3" x2="284.5" y2="306.7" stroke="#1a1a1a" stroke-width="0.9"/>
<line x1="292.05585289116596" y1="303.3" x2="292.05585289116596" y2="305.5" stroke="#1a1a1a" stroke-width="0.7"/>
<line x1="296.47574349346354" y1="303.3" x2="296.47574349346354" y2="305.5" stroke="#1a1a1a" stroke-width="0.7"/>
<line x1="299.61170578233185" y1="303.3" x2="299.61170578233185" y2="305.5" stroke="#1a1a1a" stroke-width="0.7"/>
<line x1="302.04414710883407" y1="303.3" x2="302.04414710883407" y2="305.5" stroke="#1a1a1a" stroke-width="0.7"/>
<line x1="304.03159638462944" y1="303.3" x2="304.03159638462944" y2="305.5" stroke="#1a1a1a" stroke-width="0.7"/>
<line x1="305.71196080435783" y1="303.3" x2="305.71196080435783" y2="305.5" stroke="#1a1a1a" stroke-width="0.7"/>
<line x1="307.1675586734978" y1="303.3" x2="307.1675586734978" y2="305.5" stroke="#1a1a1a" stroke-width="0.7"/>
<line x1="308.4514869869271" y1="303.3" x2="308.4514869869271" y2="305.5" stroke="#1a1a1a" stroke-width="0.7"/>
<text x="285.1" y="317.8" font-size="8.6" text-anchor="middle">10<tspan font-size="5.8" dx="0.5" dy="-3.6">-6</tspan></text>
<line x1="309.6" y1="303.3" x2="309.6" y2="306.7" stroke="#1a1a1a" stroke-width="0.9"/>
<line x1="317.155852891166" y1="303.3" x2="317.155852891166" y2="305.5" stroke="#1a1a1a" stroke-width="0.7"/>
<line x1="321.57574349346356" y1="303.3" x2="321.57574349346356" y2="305.5" stroke="#1a1a1a" stroke-width="0.7"/>
<line x1="324.7117057823319" y1="303.3" x2="324.7117057823319" y2="305.5" stroke="#1a1a1a" stroke-width="0.7"/>
<line x1="327.1441471088341" y1="303.3" x2="327.1441471088341" y2="305.5" stroke="#1a1a1a" stroke-width="0.7"/>
<line x1="329.13159638462946" y1="303.3" x2="329.13159638462946" y2="305.5" stroke="#1a1a1a" stroke-width="0.7"/>
<line x1="330.81196080435785" y1="303.3" x2="330.81196080435785" y2="305.5" stroke="#1a1a1a" stroke-width="0.7"/>
<line x1="332.26755867349783" y1="303.3" x2="332.26755867349783" y2="305.5" stroke="#1a1a1a" stroke-width="0.7"/>
<line x1="333.5514869869271" y1="303.3" x2="333.5514869869271" y2="305.5" stroke="#1a1a1a" stroke-width="0.7"/>
<text x="310.20000000000005" y="317.8" font-size="8.6" text-anchor="middle">10<tspan font-size="5.8" dx="0.5" dy="-3.6">-5</tspan></text>
<line x1="334.70000000000005" y1="303.3" x2="334.70000000000005" y2="306.7" stroke="#1a1a1a" stroke-width="0.9"/>
<text x="335.30000000000007" y="317.8" font-size="8.6" text-anchor="middle">10<tspan font-size="5.8" dx="0.5" dy="-3.6">-4</tspan></text>
<circle cx="271.5" cy="225.4" r="3.4" fill="#6aa653" stroke="none"/>
<circle cx="248.1" cy="232.1" r="3.4" fill="#6aa653" stroke="none"/>
<circle cx="260" cy="232.5" r="3.4" fill="#6aa653" stroke="none"/>
<circle cx="264" cy="250.3" r="3.4" fill="#6aa653" stroke="none"/>
<circle cx="249" cy="256.5" r="3.4" fill="#6aa653" stroke="none"/>
<circle cx="275" cy="260.3" r="3.4" fill="#6aa653" stroke="none"/>
<circle cx="296.5" cy="252.9" r="3.4" fill="#6aa653" stroke="none"/>
<circle cx="246.2" cy="271" r="3.4" fill="#6aa653" stroke="none"/>
<circle cx="271.7" cy="280.3" r="3.4" fill="#6aa653" stroke="none"/>
<circle cx="271.5" cy="284.3" r="3.4" fill="#6aa653" stroke="none"/>
<circle cx="277.3" cy="289.6" r="3.4" fill="#6aa653" stroke="none"/>
<circle cx="243.7" cy="289.2" r="3.4" fill="#6aa653" stroke="none"/>
<circle cx="294.6" cy="282.5" r="3.4" fill="#6aa653" stroke="none"/>
<circle cx="300.4" cy="285.8" r="3.4" fill="#6aa653" stroke="none"/>
<circle cx="303.3" cy="287.1" r="3.4" fill="#6aa653" stroke="none"/>
<circle cx="306.2" cy="291.2" r="3.4" fill="#6aa653" stroke="none"/>
<circle cx="314.4" cy="292.9" r="3.4" fill="#6aa653" stroke="none"/>
<circle cx="319.6" cy="286.9" r="3.4" fill="#6aa653" stroke="none"/>
<circle cx="320.2" cy="291.5" r="3.4" fill="#6aa653" stroke="none"/>
<circle cx="327.3" cy="289.6" r="3.4" fill="#6aa653" stroke="none"/>
<line x1="402.5" y1="198.4" x2="402.5" y2="303.85" stroke="#1a1a1a" stroke-width="1.3"/>
<line x1="399.1" y1="202.3" x2="402.5" y2="202.3" stroke="#1a1a1a" stroke-width="1.3"/>
<text x="395.8" y="205.0" font-size="9.4" text-anchor="end" textLength="11.0" lengthAdjust="spacingAndGlyphs">1.0</text>
<line x1="399.1" y1="222.5" x2="402.5" y2="222.5" stroke="#1a1a1a" stroke-width="1.3"/>
<text x="395.8" y="225.2" font-size="9.4" text-anchor="end" textLength="11.0" lengthAdjust="spacingAndGlyphs">0.8</text>
<line x1="399.1" y1="242.7" x2="402.5" y2="242.7" stroke="#1a1a1a" stroke-width="1.3"/>
<text x="395.8" y="245.39999999999998" font-size="9.4" text-anchor="end" textLength="11.0" lengthAdjust="spacingAndGlyphs">0.6</text>
<line x1="399.1" y1="262.9" x2="402.5" y2="262.9" stroke="#1a1a1a" stroke-width="1.3"/>
<text x="395.8" y="265.59999999999997" font-size="9.4" text-anchor="end" textLength="11.0" lengthAdjust="spacingAndGlyphs">0.4</text>
<line x1="399.1" y1="283.1" x2="402.5" y2="283.1" stroke="#1a1a1a" stroke-width="1.3"/>
<text x="395.8" y="285.8" font-size="9.4" text-anchor="end" textLength="11.0" lengthAdjust="spacingAndGlyphs">0.2</text>
<line x1="399.1" y1="303.3" x2="402.5" y2="303.3" stroke="#1a1a1a" stroke-width="1.3"/>
<text x="395.8" y="306.0" font-size="9.4" text-anchor="end" textLength="11.0" lengthAdjust="spacingAndGlyphs">0.0</text>
<line x1="401.95" y1="303.3" x2="507.90000000000003" y2="303.3" stroke="#1a1a1a" stroke-width="1.3"/>
<line x1="402.5" y1="303.3" x2="402.5" y2="306.7" stroke="#1a1a1a" stroke-width="0.9"/>
<line x1="410.14616188986514" y1="303.3" x2="410.14616188986514" y2="305.5" stroke="#1a1a1a" stroke-width="0.7"/>
<line x1="414.61887986987944" y1="303.3" x2="414.61887986987944" y2="305.5" stroke="#1a1a1a" stroke-width="0.7"/>
<line x1="417.7923237797302" y1="303.3" x2="417.7923237797302" y2="305.5" stroke="#1a1a1a" stroke-width="0.7"/>
<line x1="420.2538381101349" y1="303.3" x2="420.2538381101349" y2="305.5" stroke="#1a1a1a" stroke-width="0.7"/>
<line x1="422.2650417597446" y1="303.3" x2="422.2650417597446" y2="305.5" stroke="#1a1a1a" stroke-width="0.7"/>
<line x1="423.9654902163621" y1="303.3" x2="423.9654902163621" y2="305.5" stroke="#1a1a1a" stroke-width="0.7"/>
<line x1="425.43848566959537" y1="303.3" x2="425.43848566959537" y2="305.5" stroke="#1a1a1a" stroke-width="0.7"/>
<line x1="426.73775973975887" y1="303.3" x2="426.73775973975887" y2="305.5" stroke="#1a1a1a" stroke-width="0.7"/>
<text x="403.1" y="317.8" font-size="8.6" text-anchor="middle">10<tspan font-size="5.8" dx="0.5" dy="-3.6">-8</tspan></text>
<line x1="427.9" y1="303.3" x2="427.9" y2="306.7" stroke="#1a1a1a" stroke-width="0.9"/>
<line x1="435.5461618898651" y1="303.3" x2="435.5461618898651" y2="305.5" stroke="#1a1a1a" stroke-width="0.7"/>
<line x1="440.0188798698794" y1="303.3" x2="440.0188798698794" y2="305.5" stroke="#1a1a1a" stroke-width="0.7"/>
<line x1="443.1923237797302" y1="303.3" x2="443.1923237797302" y2="305.5" stroke="#1a1a1a" stroke-width="0.7"/>
<line x1="445.65383811013487" y1="303.3" x2="445.65383811013487" y2="305.5" stroke="#1a1a1a" stroke-width="0.7"/>
<line x1="447.66504175974455" y1="303.3" x2="447.66504175974455" y2="305.5" stroke="#1a1a1a" stroke-width="0.7"/>
<line x1="449.3654902163621" y1="303.3" x2="449.3654902163621" y2="305.5" stroke="#1a1a1a" stroke-width="0.7"/>
<line x1="450.83848566959534" y1="303.3" x2="450.83848566959534" y2="305.5" stroke="#1a1a1a" stroke-width="0.7"/>
<line x1="452.13775973975885" y1="303.3" x2="452.13775973975885" y2="305.5" stroke="#1a1a1a" stroke-width="0.7"/>
<text x="428.5" y="317.8" font-size="8.6" text-anchor="middle">10<tspan font-size="5.8" dx="0.5" dy="-3.6">-7</tspan></text>
<line x1="453.3" y1="303.3" x2="453.3" y2="306.7" stroke="#1a1a1a" stroke-width="0.9"/>
<line x1="460.94616188986515" y1="303.3" x2="460.94616188986515" y2="305.5" stroke="#1a1a1a" stroke-width="0.7"/>
<line x1="465.41887986987945" y1="303.3" x2="465.41887986987945" y2="305.5" stroke="#1a1a1a" stroke-width="0.7"/>
<line x1="468.59232377973024" y1="303.3" x2="468.59232377973024" y2="305.5" stroke="#1a1a1a" stroke-width="0.7"/>
<line x1="471.0538381101349" y1="303.3" x2="471.0538381101349" y2="305.5" stroke="#1a1a1a" stroke-width="0.7"/>
<line x1="473.06504175974453" y1="303.3" x2="473.06504175974453" y2="305.5" stroke="#1a1a1a" stroke-width="0.7"/>
<line x1="474.76549021636214" y1="303.3" x2="474.76549021636214" y2="305.5" stroke="#1a1a1a" stroke-width="0.7"/>
<line x1="476.2384856695954" y1="303.3" x2="476.2384856695954" y2="305.5" stroke="#1a1a1a" stroke-width="0.7"/>
<line x1="477.5377597397589" y1="303.3" x2="477.5377597397589" y2="305.5" stroke="#1a1a1a" stroke-width="0.7"/>
<text x="453.90000000000003" y="317.8" font-size="8.6" text-anchor="middle">10<tspan font-size="5.8" dx="0.5" dy="-3.6">-6</tspan></text>
<line x1="478.7" y1="303.3" x2="478.7" y2="306.7" stroke="#1a1a1a" stroke-width="0.9"/>
<line x1="486.34616188986513" y1="303.3" x2="486.34616188986513" y2="305.5" stroke="#1a1a1a" stroke-width="0.7"/>
<line x1="490.8188798698794" y1="303.3" x2="490.8188798698794" y2="305.5" stroke="#1a1a1a" stroke-width="0.7"/>
<line x1="493.9923237797302" y1="303.3" x2="493.9923237797302" y2="305.5" stroke="#1a1a1a" stroke-width="0.7"/>
<line x1="496.4538381101349" y1="303.3" x2="496.4538381101349" y2="305.5" stroke="#1a1a1a" stroke-width="0.7"/>
<line x1="498.4650417597445" y1="303.3" x2="498.4650417597445" y2="305.5" stroke="#1a1a1a" stroke-width="0.7"/>
<line x1="500.1654902163621" y1="303.3" x2="500.1654902163621" y2="305.5" stroke="#1a1a1a" stroke-width="0.7"/>
<line x1="501.63848566959535" y1="303.3" x2="501.63848566959535" y2="305.5" stroke="#1a1a1a" stroke-width="0.7"/>
<line x1="502.93775973975886" y1="303.3" x2="502.93775973975886" y2="305.5" stroke="#1a1a1a" stroke-width="0.7"/>
<text x="479.3" y="317.8" font-size="8.6" text-anchor="middle">10<tspan font-size="5.8" dx="0.5" dy="-3.6">-5</tspan></text>
<line x1="504.1" y1="303.3" x2="504.1" y2="306.7" stroke="#1a1a1a" stroke-width="0.9"/>
<text x="504.70000000000005" y="317.8" font-size="8.6" text-anchor="middle">10<tspan font-size="5.8" dx="0.5" dy="-3.6">-4</tspan></text>
<circle cx="439.8" cy="207.1" r="3.4" fill="#6aa653" stroke="none"/>
<circle cx="439.8" cy="209.4" r="3.4" fill="#6aa653" stroke="none"/>
<circle cx="439.8" cy="218.5" r="3.4" fill="#6aa653" stroke="none"/>
<circle cx="428.3" cy="215.2" r="3.4" fill="#6aa653" stroke="none"/>
<circle cx="432.1" cy="215.2" r="3.4" fill="#6aa653" stroke="none"/>
<circle cx="414.8" cy="217.1" r="3.4" fill="#6aa653" stroke="none"/>
<circle cx="411.5" cy="226.3" r="3.4" fill="#6aa653" stroke="none"/>
<circle cx="417.1" cy="226.3" r="3.4" fill="#6aa653" stroke="none"/>
<circle cx="443.3" cy="258.6" r="3.4" fill="#6aa653" stroke="none"/>
<circle cx="446" cy="257.7" r="3.4" fill="#6aa653" stroke="none"/>
<circle cx="464.8" cy="238.7" r="3.4" fill="#6aa653" stroke="none"/>
<circle cx="469.6" cy="278.1" r="3.4" fill="#6aa653" stroke="none"/>
<circle cx="469" cy="280.4" r="3.4" fill="#6aa653" stroke="none"/>
<circle cx="471.5" cy="281" r="3.4" fill="#6aa653" stroke="none"/>
<circle cx="487.7" cy="279" r="3.4" fill="#6aa653" stroke="none"/>
<circle cx="463.3" cy="296.3" r="3.4" fill="#6aa653" stroke="none"/>
<circle cx="474.8" cy="297.9" r="3.4" fill="#6aa653" stroke="none"/>
<circle cx="482.9" cy="295" r="3.4" fill="#6aa653" stroke="none"/>
<circle cx="488.8" cy="296.9" r="3.4" fill="#6aa653" stroke="none"/>
<circle cx="496" cy="301.2" r="3.4" fill="#6aa653" stroke="none"/>
<line x1="72.4" y1="373.8" x2="72.4" y2="479.2" stroke="#1a1a1a" stroke-width="1.3"/>
<line x1="69.0" y1="377.7" x2="72.4" y2="377.7" stroke="#1a1a1a" stroke-width="1.3"/>
<text x="65.7" y="380.4" font-size="9.4" text-anchor="end" textLength="11.0" lengthAdjust="spacingAndGlyphs">1.5</text>
<line x1="69.0" y1="411.35" x2="72.4" y2="411.35" stroke="#1a1a1a" stroke-width="1.3"/>
<text x="65.7" y="414.05" font-size="9.4" text-anchor="end" textLength="11.0" lengthAdjust="spacingAndGlyphs">1.0</text>
<line x1="69.0" y1="445" x2="72.4" y2="445" stroke="#1a1a1a" stroke-width="1.3"/>
<text x="65.7" y="447.7" font-size="9.4" text-anchor="end" textLength="11.0" lengthAdjust="spacingAndGlyphs">0.5</text>
<line x1="69.0" y1="478.65" x2="72.4" y2="478.65" stroke="#1a1a1a" stroke-width="1.3"/>
<text x="65.7" y="481.34999999999997" font-size="9.4" text-anchor="end" textLength="11.0" lengthAdjust="spacingAndGlyphs">0.0</text>
<line x1="71.85000000000001" y1="478.65" x2="177.0" y2="478.65" stroke="#1a1a1a" stroke-width="1.3"/>
<line x1="72.4" y1="478.65" x2="72.4" y2="482.04999999999995" stroke="#1a1a1a" stroke-width="0.9"/>
<line x1="79.98595589073233" y1="478.65" x2="79.98595589073233" y2="480.84999999999997" stroke="#1a1a1a" stroke-width="0.7"/>
<line x1="84.42345561893549" y1="478.65" x2="84.42345561893549" y2="480.84999999999997" stroke="#1a1a1a" stroke-width="0.7"/>
<line x1="87.57191178146466" y1="478.65" x2="87.57191178146466" y2="480.84999999999997" stroke="#1a1a1a" stroke-width="0.7"/>
<line x1="90.01404410926767" y1="478.65" x2="90.01404410926767" y2="480.84999999999997" stroke="#1a1a1a" stroke-width="0.7"/>
<line x1="92.00941150966783" y1="478.65" x2="92.00941150966783" y2="480.84999999999997" stroke="#1a1a1a" stroke-width="0.7"/>
<line x1="93.69647060835928" y1="478.65" x2="93.69647060835928" y2="480.84999999999997" stroke="#1a1a1a" stroke-width="0.7"/>
<line x1="95.15786767219699" y1="478.65" x2="95.15786767219699" y2="480.84999999999997" stroke="#1a1a1a" stroke-width="0.7"/>
<line x1="96.44691123787099" y1="478.65" x2="96.44691123787099" y2="480.84999999999997" stroke="#1a1a1a" stroke-width="0.7"/>
<text x="73.0" y="493.15" font-size="8.6" text-anchor="middle">10<tspan font-size="5.8" dx="0.5" dy="-3.6">-8</tspan></text>
<line x1="97.60000000000001" y1="478.65" x2="97.60000000000001" y2="482.04999999999995" stroke="#1a1a1a" stroke-width="0.9"/>
<line x1="105.18595589073233" y1="478.65" x2="105.18595589073233" y2="480.84999999999997" stroke="#1a1a1a" stroke-width="0.7"/>
<line x1="109.62345561893551" y1="478.65" x2="109.62345561893551" y2="480.84999999999997" stroke="#1a1a1a" stroke-width="0.7"/>
<line x1="112.77191178146467" y1="478.65" x2="112.77191178146467" y2="480.84999999999997" stroke="#1a1a1a" stroke-width="0.7"/>
<line x1="115.21404410926769" y1="478.65" x2="115.21404410926769" y2="480.84999999999997" stroke="#1a1a1a" stroke-width="0.7"/>
<line x1="117.20941150966783" y1="478.65" x2="117.20941150966783" y2="480.84999999999997" stroke="#1a1a1a" stroke-width="0.7"/>
<line x1="118.89647060835928" y1="478.65" x2="118.89647060835928" y2="480.84999999999997" stroke="#1a1a1a" stroke-width="0.7"/>
<line x1="120.35786767219699" y1="478.65" x2="120.35786767219699" y2="480.84999999999997" stroke="#1a1a1a" stroke-width="0.7"/>
<line x1="121.646911237871" y1="478.65" x2="121.646911237871" y2="480.84999999999997" stroke="#1a1a1a" stroke-width="0.7"/>
<text x="98.2" y="493.15" font-size="8.6" text-anchor="middle">10<tspan font-size="5.8" dx="0.5" dy="-3.6">-7</tspan></text>
<line x1="122.80000000000001" y1="478.65" x2="122.80000000000001" y2="482.04999999999995" stroke="#1a1a1a" stroke-width="0.9"/>
<line x1="130.38595589073233" y1="478.65" x2="130.38595589073233" y2="480.84999999999997" stroke="#1a1a1a" stroke-width="0.7"/>
<line x1="134.8234556189355" y1="478.65" x2="134.8234556189355" y2="480.84999999999997" stroke="#1a1a1a" stroke-width="0.7"/>
<line x1="137.97191178146466" y1="478.65" x2="137.97191178146466" y2="480.84999999999997" stroke="#1a1a1a" stroke-width="0.7"/>
<line x1="140.41404410926768" y1="478.65" x2="140.41404410926768" y2="480.84999999999997" stroke="#1a1a1a" stroke-width="0.7"/>
<line x1="142.40941150966782" y1="478.65" x2="142.40941150966782" y2="480.84999999999997" stroke="#1a1a1a" stroke-width="0.7"/>
<line x1="144.09647060835928" y1="478.65" x2="144.09647060835928" y2="480.84999999999997" stroke="#1a1a1a" stroke-width="0.7"/>
<line x1="145.55786767219698" y1="478.65" x2="145.55786767219698" y2="480.84999999999997" stroke="#1a1a1a" stroke-width="0.7"/>
<line x1="146.84691123787098" y1="478.65" x2="146.84691123787098" y2="480.84999999999997" stroke="#1a1a1a" stroke-width="0.7"/>
<text x="123.4" y="493.15" font-size="8.6" text-anchor="middle">10<tspan font-size="5.8" dx="0.5" dy="-3.6">-6</tspan></text>
<line x1="148.0" y1="478.65" x2="148.0" y2="482.04999999999995" stroke="#1a1a1a" stroke-width="0.9"/>
<line x1="155.58595589073232" y1="478.65" x2="155.58595589073232" y2="480.84999999999997" stroke="#1a1a1a" stroke-width="0.7"/>
<line x1="160.0234556189355" y1="478.65" x2="160.0234556189355" y2="480.84999999999997" stroke="#1a1a1a" stroke-width="0.7"/>
<line x1="163.17191178146464" y1="478.65" x2="163.17191178146464" y2="480.84999999999997" stroke="#1a1a1a" stroke-width="0.7"/>
<line x1="165.61404410926767" y1="478.65" x2="165.61404410926767" y2="480.84999999999997" stroke="#1a1a1a" stroke-width="0.7"/>
<line x1="167.6094115096678" y1="478.65" x2="167.6094115096678" y2="480.84999999999997" stroke="#1a1a1a" stroke-width="0.7"/>
<line x1="169.29647060835927" y1="478.65" x2="169.29647060835927" y2="480.84999999999997" stroke="#1a1a1a" stroke-width="0.7"/>
<line x1="170.75786767219697" y1="478.65" x2="170.75786767219697" y2="480.84999999999997" stroke="#1a1a1a" stroke-width="0.7"/>
<line x1="172.04691123787097" y1="478.65" x2="172.04691123787097" y2="480.84999999999997" stroke="#1a1a1a" stroke-width="0.7"/>
<text x="148.6" y="493.15" font-size="8.6" text-anchor="middle">10<tspan font-size="5.8" dx="0.5" dy="-3.6">-5</tspan></text>
<line x1="173.2" y1="478.65" x2="173.2" y2="482.04999999999995" stroke="#1a1a1a" stroke-width="0.9"/>
<text x="173.79999999999998" y="493.15" font-size="8.6" text-anchor="middle">10<tspan font-size="5.8" dx="0.5" dy="-3.6">-4</tspan></text>
<circle cx="116.9" cy="396.3" r="3.4" fill="#6aa653" stroke="none"/>
<circle cx="100.2" cy="400.4" r="3.4" fill="#6aa653" stroke="none"/>
<circle cx="116.9" cy="405.3" r="3.4" fill="#6aa653" stroke="none"/>
<circle cx="133.7" cy="413.4" r="3.4" fill="#6aa653" stroke="none"/>
<circle cx="108.8" cy="412.6" r="3.4" fill="#6aa653" stroke="none"/>
<circle cx="107.3" cy="415.2" r="3.4" fill="#6aa653" stroke="none"/>
<circle cx="106" cy="418.1" r="3.4" fill="#6aa653" stroke="none"/>
<circle cx="97.1" cy="417.1" r="3.4" fill="#6aa653" stroke="none"/>
<circle cx="80.4" cy="425.8" r="3.4" fill="#6aa653" stroke="none"/>
<circle cx="105.8" cy="427.4" r="3.4" fill="#6aa653" stroke="none"/>
<circle cx="90.4" cy="450.2" r="3.4" fill="#6aa653" stroke="none"/>
<circle cx="94.8" cy="454" r="3.4" fill="#6aa653" stroke="none"/>
<circle cx="103.1" cy="450.8" r="3.4" fill="#6aa653" stroke="none"/>
<circle cx="105" cy="451.2" r="3.4" fill="#6aa653" stroke="none"/>
<circle cx="137" cy="446.1" r="3.4" fill="#6aa653" stroke="none"/>
<circle cx="95.8" cy="468.7" r="3.4" fill="#6aa653" stroke="none"/>
<circle cx="110.9" cy="465.7" r="3.4" fill="#6aa653" stroke="none"/>
<circle cx="125.8" cy="465.1" r="3.4" fill="#6aa653" stroke="none"/>
<circle cx="162.1" cy="449" r="3.4" fill="#6aa653" stroke="none"/>
<circle cx="151.5" cy="461.9" r="3.4" fill="#6aa653" stroke="none"/>
<circle cx="154.2" cy="460.6" r="3.4" fill="#6aa653" stroke="none"/>
<line x1="234.3" y1="373.8" x2="234.3" y2="479.2" stroke="#1a1a1a" stroke-width="1.3"/>
<line x1="230.9" y1="377.7" x2="234.3" y2="377.7" stroke="#1a1a1a" stroke-width="1.3"/>
<text x="227.60000000000002" y="380.4" font-size="9.4" text-anchor="end" textLength="13.2" lengthAdjust="spacingAndGlyphs">400</text>
<line x1="230.9" y1="402.95" x2="234.3" y2="402.95" stroke="#1a1a1a" stroke-width="1.3"/>
<text x="227.60000000000002" y="405.65" font-size="9.4" text-anchor="end" textLength="13.2" lengthAdjust="spacingAndGlyphs">300</text>
<line x1="230.9" y1="428.2" x2="234.3" y2="428.2" stroke="#1a1a1a" stroke-width="1.3"/>
<text x="227.60000000000002" y="430.9" font-size="9.4" text-anchor="end" textLength="13.2" lengthAdjust="spacingAndGlyphs">200</text>
<line x1="230.9" y1="453.4" x2="234.3" y2="453.4" stroke="#1a1a1a" stroke-width="1.3"/>
<text x="227.60000000000002" y="456.09999999999997" font-size="9.4" text-anchor="end" textLength="13.2" lengthAdjust="spacingAndGlyphs">100</text>
<line x1="230.9" y1="478.65" x2="234.3" y2="478.65" stroke="#1a1a1a" stroke-width="1.3"/>
<text x="227.60000000000002" y="481.34999999999997" font-size="9.4" text-anchor="end" textLength="4.4" lengthAdjust="spacingAndGlyphs">0</text>
<line x1="233.75" y1="478.65" x2="339.1" y2="478.65" stroke="#1a1a1a" stroke-width="1.3"/>
<line x1="234.3" y1="478.65" x2="234.3" y2="482.04999999999995" stroke="#1a1a1a" stroke-width="0.9"/>
<line x1="241.90100739051553" y1="478.65" x2="241.90100739051553" y2="480.84999999999997" stroke="#1a1a1a" stroke-width="0.7"/>
<line x1="246.3473116816715" y1="478.65" x2="246.3473116816715" y2="480.84999999999997" stroke="#1a1a1a" stroke-width="0.7"/>
<line x1="249.50201478103105" y1="478.65" x2="249.50201478103105" y2="480.84999999999997" stroke="#1a1a1a" stroke-width="0.7"/>
<line x1="251.9489926094845" y1="478.65" x2="251.9489926094845" y2="480.84999999999997" stroke="#1a1a1a" stroke-width="0.7"/>
<line x1="253.94831907218702" y1="478.65" x2="253.94831907218702" y2="480.84999999999997" stroke="#1a1a1a" stroke-width="0.7"/>
<line x1="255.63872551036" y1="478.65" x2="255.63872551036" y2="480.84999999999997" stroke="#1a1a1a" stroke-width="0.7"/>
<line x1="257.10302217154657" y1="478.65" x2="257.10302217154657" y2="480.84999999999997" stroke="#1a1a1a" stroke-width="0.7"/>
<line x1="258.394623363343" y1="478.65" x2="258.394623363343" y2="480.84999999999997" stroke="#1a1a1a" stroke-width="0.7"/>
<text x="234.9" y="493.15" font-size="8.6" text-anchor="middle">10<tspan font-size="5.8" dx="0.5" dy="-3.6">-8</tspan></text>
<line x1="259.55" y1="478.65" x2="259.55" y2="482.04999999999995" stroke="#1a1a1a" stroke-width="0.9"/>
<line x1="267.15100739051553" y1="478.65" x2="267.15100739051553" y2="480.84999999999997" stroke="#1a1a1a" stroke-width="0.7"/>
<line x1="271.5973116816715" y1="478.65" x2="271.5973116816715" y2="480.84999999999997" stroke="#1a1a1a" stroke-width="0.7"/>
<line x1="274.75201478103105" y1="478.65" x2="274.75201478103105" y2="480.84999999999997" stroke="#1a1a1a" stroke-width="0.7"/>
<line x1="277.1989926094845" y1="478.65" x2="277.1989926094845" y2="480.84999999999997" stroke="#1a1a1a" stroke-width="0.7"/>
<line x1="279.198319072187" y1="478.65" x2="279.198319072187" y2="480.84999999999997" stroke="#1a1a1a" stroke-width="0.7"/>
<line x1="280.88872551036" y1="478.65" x2="280.88872551036" y2="480.84999999999997" stroke="#1a1a1a" stroke-width="0.7"/>
<line x1="282.35302217154657" y1="478.65" x2="282.35302217154657" y2="480.84999999999997" stroke="#1a1a1a" stroke-width="0.7"/>
<line x1="283.644623363343" y1="478.65" x2="283.644623363343" y2="480.84999999999997" stroke="#1a1a1a" stroke-width="0.7"/>
<text x="260.15000000000003" y="493.15" font-size="8.6" text-anchor="middle">10<tspan font-size="5.8" dx="0.5" dy="-3.6">-7</tspan></text>
<line x1="284.8" y1="478.65" x2="284.8" y2="482.04999999999995" stroke="#1a1a1a" stroke-width="0.9"/>
<line x1="292.40100739051553" y1="478.65" x2="292.40100739051553" y2="480.84999999999997" stroke="#1a1a1a" stroke-width="0.7"/>
<line x1="296.8473116816715" y1="478.65" x2="296.8473116816715" y2="480.84999999999997" stroke="#1a1a1a" stroke-width="0.7"/>
<line x1="300.00201478103105" y1="478.65" x2="300.00201478103105" y2="480.84999999999997" stroke="#1a1a1a" stroke-width="0.7"/>
<line x1="302.4489926094845" y1="478.65" x2="302.4489926094845" y2="480.84999999999997" stroke="#1a1a1a" stroke-width="0.7"/>
<line x1="304.448319072187" y1="478.65" x2="304.448319072187" y2="480.84999999999997" stroke="#1a1a1a" stroke-width="0.7"/>
<line x1="306.13872551036" y1="478.65" x2="306.13872551036" y2="480.84999999999997" stroke="#1a1a1a" stroke-width="0.7"/>
<line x1="307.60302217154657" y1="478.65" x2="307.60302217154657" y2="480.84999999999997" stroke="#1a1a1a" stroke-width="0.7"/>
<line x1="308.894623363343" y1="478.65" x2="308.894623363343" y2="480.84999999999997" stroke="#1a1a1a" stroke-width="0.7"/>
<text x="285.40000000000003" y="493.15" font-size="8.6" text-anchor="middle">10<tspan font-size="5.8" dx="0.5" dy="-3.6">-6</tspan></text>
<line x1="310.05" y1="478.65" x2="310.05" y2="482.04999999999995" stroke="#1a1a1a" stroke-width="0.9"/>
<line x1="317.65100739051553" y1="478.65" x2="317.65100739051553" y2="480.84999999999997" stroke="#1a1a1a" stroke-width="0.7"/>
<line x1="322.0973116816715" y1="478.65" x2="322.0973116816715" y2="480.84999999999997" stroke="#1a1a1a" stroke-width="0.7"/>
<line x1="325.25201478103105" y1="478.65" x2="325.25201478103105" y2="480.84999999999997" stroke="#1a1a1a" stroke-width="0.7"/>
<line x1="327.6989926094845" y1="478.65" x2="327.6989926094845" y2="480.84999999999997" stroke="#1a1a1a" stroke-width="0.7"/>
<line x1="329.698319072187" y1="478.65" x2="329.698319072187" y2="480.84999999999997" stroke="#1a1a1a" stroke-width="0.7"/>
<line x1="331.38872551036" y1="478.65" x2="331.38872551036" y2="480.84999999999997" stroke="#1a1a1a" stroke-width="0.7"/>
<line x1="332.85302217154657" y1="478.65" x2="332.85302217154657" y2="480.84999999999997" stroke="#1a1a1a" stroke-width="0.7"/>
<line x1="334.144623363343" y1="478.65" x2="334.144623363343" y2="480.84999999999997" stroke="#1a1a1a" stroke-width="0.7"/>
<text x="310.65000000000003" y="493.15" font-size="8.6" text-anchor="middle">10<tspan font-size="5.8" dx="0.5" dy="-3.6">-5</tspan></text>
<line x1="335.3" y1="478.65" x2="335.3" y2="482.04999999999995" stroke="#1a1a1a" stroke-width="0.9"/>
<text x="335.90000000000003" y="493.15" font-size="8.6" text-anchor="middle">10<tspan font-size="5.8" dx="0.5" dy="-3.6">-4</tspan></text>
<circle cx="278.6" cy="406.6" r="3.4" fill="#6aa653" stroke="none"/>
<circle cx="262.1" cy="421.6" r="3.4" fill="#6aa653" stroke="none"/>
<circle cx="267.3" cy="435.5" r="3.4" fill="#6aa653" stroke="none"/>
<circle cx="259" cy="439.8" r="3.4" fill="#6aa653" stroke="none"/>
<circle cx="241.9" cy="446.2" r="3.4" fill="#6aa653" stroke="none"/>
<circle cx="256.3" cy="449.4" r="3.4" fill="#6aa653" stroke="none"/>
<circle cx="251.9" cy="454.6" r="3.4" fill="#6aa653" stroke="none"/>
<circle cx="269.7" cy="450.9" r="3.4" fill="#6aa653" stroke="none"/>
<circle cx="298.6" cy="449.9" r="3.4" fill="#6aa653" stroke="none"/>
<circle cx="266.3" cy="460.5" r="3.4" fill="#6aa653" stroke="none"/>
<circle cx="267.7" cy="463.4" r="3.4" fill="#6aa653" stroke="none"/>
<circle cx="278.7" cy="462.2" r="3.4" fill="#6aa653" stroke="none"/>
<circle cx="295.6" cy="465.3" r="3.4" fill="#6aa653" stroke="none"/>
<circle cx="265.4" cy="468.4" r="3.4" fill="#6aa653" stroke="none"/>
<circle cx="257.7" cy="471.9" r="3.4" fill="#6aa653" stroke="none"/>
<circle cx="271" cy="472.2" r="3.4" fill="#6aa653" stroke="none"/>
<circle cx="272.8" cy="472.2" r="3.4" fill="#6aa653" stroke="none"/>
<circle cx="287.5" cy="473.2" r="3.4" fill="#6aa653" stroke="none"/>
<circle cx="313.5" cy="471.2" r="3.4" fill="#6aa653" stroke="none"/>
<circle cx="316.2" cy="473.5" r="3.4" fill="#6aa653" stroke="none"/>
<circle cx="323.8" cy="472.5" r="3.4" fill="#6aa653" stroke="none"/>
<line x1="402.5" y1="373.8" x2="402.5" y2="479.2" stroke="#1a1a1a" stroke-width="1.3"/>
<line x1="399.1" y1="377.7" x2="402.5" y2="377.7" stroke="#1a1a1a" stroke-width="1.3"/>
<text x="395.8" y="380.4" font-size="9.4" text-anchor="end" textLength="11.0" lengthAdjust="spacingAndGlyphs">1.5</text>
<line x1="399.1" y1="411.35" x2="402.5" y2="411.35" stroke="#1a1a1a" stroke-width="1.3"/>
<text x="395.8" y="414.05" font-size="9.4" text-anchor="end" textLength="11.0" lengthAdjust="spacingAndGlyphs">1.0</text>
<line x1="399.1" y1="445" x2="402.5" y2="445" stroke="#1a1a1a" stroke-width="1.3"/>
<text x="395.8" y="447.7" font-size="9.4" text-anchor="end" textLength="11.0" lengthAdjust="spacingAndGlyphs">0.5</text>
<line x1="399.1" y1="478.65" x2="402.5" y2="478.65" stroke="#1a1a1a" stroke-width="1.3"/>
<text x="395.8" y="481.34999999999997" font-size="9.4" text-anchor="end" textLength="11.0" lengthAdjust="spacingAndGlyphs">0.0</text>
<line x1="401.95" y1="478.65" x2="507.5" y2="478.65" stroke="#1a1a1a" stroke-width="1.3"/>
<line x1="402.5" y1="478.65" x2="402.5" y2="482.04999999999995" stroke="#1a1a1a" stroke-width="0.9"/>
<line x1="410.11605889029875" y1="478.65" x2="410.11605889029875" y2="480.84999999999997" stroke="#1a1a1a" stroke-width="0.7"/>
<line x1="414.57116774440743" y1="478.65" x2="414.57116774440743" y2="480.84999999999997" stroke="#1a1a1a" stroke-width="0.7"/>
<line x1="417.73211778059743" y1="478.65" x2="417.73211778059743" y2="480.84999999999997" stroke="#1a1a1a" stroke-width="0.7"/>
<line x1="420.18394110970127" y1="478.65" x2="420.18394110970127" y2="480.84999999999997" stroke="#1a1a1a" stroke-width="0.7"/>
<line x1="422.1872266347062" y1="478.65" x2="422.1872266347062" y2="480.84999999999997" stroke="#1a1a1a" stroke-width="0.7"/>
<line x1="423.8809804123607" y1="478.65" x2="423.8809804123607" y2="480.84999999999997" stroke="#1a1a1a" stroke-width="0.7"/>
<line x1="425.3481766708962" y1="478.65" x2="425.3481766708962" y2="480.84999999999997" stroke="#1a1a1a" stroke-width="0.7"/>
<line x1="426.6423354888149" y1="478.65" x2="426.6423354888149" y2="480.84999999999997" stroke="#1a1a1a" stroke-width="0.7"/>
<text x="403.1" y="493.15" font-size="8.6" text-anchor="middle">10<tspan font-size="5.8" dx="0.5" dy="-3.6">-8</tspan></text>
<line x1="427.8" y1="478.65" x2="427.8" y2="482.04999999999995" stroke="#1a1a1a" stroke-width="0.9"/>
<line x1="435.41605889029876" y1="478.65" x2="435.41605889029876" y2="480.84999999999997" stroke="#1a1a1a" stroke-width="0.7"/>
<line x1="439.87116774440744" y1="478.65" x2="439.87116774440744" y2="480.84999999999997" stroke="#1a1a1a" stroke-width="0.7"/>
<line x1="443.03211778059745" y1="478.65" x2="443.03211778059745" y2="480.84999999999997" stroke="#1a1a1a" stroke-width="0.7"/>
<line x1="445.4839411097013" y1="478.65" x2="445.4839411097013" y2="480.84999999999997" stroke="#1a1a1a" stroke-width="0.7"/>
<line x1="447.4872266347062" y1="478.65" x2="447.4872266347062" y2="480.84999999999997" stroke="#1a1a1a" stroke-width="0.7"/>
<line x1="449.1809804123607" y1="478.65" x2="449.1809804123607" y2="480.84999999999997" stroke="#1a1a1a" stroke-width="0.7"/>
<line x1="450.6481766708962" y1="478.65" x2="450.6481766708962" y2="480.84999999999997" stroke="#1a1a1a" stroke-width="0.7"/>
<line x1="451.94233548881493" y1="478.65" x2="451.94233548881493" y2="480.84999999999997" stroke="#1a1a1a" stroke-width="0.7"/>
<text x="428.40000000000003" y="493.15" font-size="8.6" text-anchor="middle">10<tspan font-size="5.8" dx="0.5" dy="-3.6">-7</tspan></text>
<line x1="453.1" y1="478.65" x2="453.1" y2="482.04999999999995" stroke="#1a1a1a" stroke-width="0.9"/>
<line x1="460.71605889029877" y1="478.65" x2="460.71605889029877" y2="480.84999999999997" stroke="#1a1a1a" stroke-width="0.7"/>
<line x1="465.17116774440746" y1="478.65" x2="465.17116774440746" y2="480.84999999999997" stroke="#1a1a1a" stroke-width="0.7"/>
<line x1="468.33211778059746" y1="478.65" x2="468.33211778059746" y2="480.84999999999997" stroke="#1a1a1a" stroke-width="0.7"/>
<line x1="470.7839411097013" y1="478.65" x2="470.7839411097013" y2="480.84999999999997" stroke="#1a1a1a" stroke-width="0.7"/>
<line x1="472.7872266347062" y1="478.65" x2="472.7872266347062" y2="480.84999999999997" stroke="#1a1a1a" stroke-width="0.7"/>
<line x1="474.48098041236074" y1="478.65" x2="474.48098041236074" y2="480.84999999999997" stroke="#1a1a1a" stroke-width="0.7"/>
<line x1="475.9481766708962" y1="478.65" x2="475.9481766708962" y2="480.84999999999997" stroke="#1a1a1a" stroke-width="0.7"/>
<line x1="477.24233548881494" y1="478.65" x2="477.24233548881494" y2="480.84999999999997" stroke="#1a1a1a" stroke-width="0.7"/>
<text x="453.70000000000005" y="493.15" font-size="8.6" text-anchor="middle">10<tspan font-size="5.8" dx="0.5" dy="-3.6">-6</tspan></text>
<line x1="478.4" y1="478.65" x2="478.4" y2="482.04999999999995" stroke="#1a1a1a" stroke-width="0.9"/>
<line x1="486.0160588902987" y1="478.65" x2="486.0160588902987" y2="480.84999999999997" stroke="#1a1a1a" stroke-width="0.7"/>
<line x1="490.4711677444074" y1="478.65" x2="490.4711677444074" y2="480.84999999999997" stroke="#1a1a1a" stroke-width="0.7"/>
<line x1="493.6321177805974" y1="478.65" x2="493.6321177805974" y2="480.84999999999997" stroke="#1a1a1a" stroke-width="0.7"/>
<line x1="496.08394110970124" y1="478.65" x2="496.08394110970124" y2="480.84999999999997" stroke="#1a1a1a" stroke-width="0.7"/>
<line x1="498.08722663470616" y1="478.65" x2="498.08722663470616" y2="480.84999999999997" stroke="#1a1a1a" stroke-width="0.7"/>
<line x1="499.7809804123607" y1="478.65" x2="499.7809804123607" y2="480.84999999999997" stroke="#1a1a1a" stroke-width="0.7"/>
<line x1="501.24817667089616" y1="478.65" x2="501.24817667089616" y2="480.84999999999997" stroke="#1a1a1a" stroke-width="0.7"/>
<line x1="502.5423354888149" y1="478.65" x2="502.5423354888149" y2="480.84999999999997" stroke="#1a1a1a" stroke-width="0.7"/>
<text x="479.0" y="493.15" font-size="8.6" text-anchor="middle">10<tspan font-size="5.8" dx="0.5" dy="-3.6">-5</tspan></text>
<line x1="503.7" y1="478.65" x2="503.7" y2="482.04999999999995" stroke="#1a1a1a" stroke-width="0.9"/>
<text x="504.3" y="493.15" font-size="8.6" text-anchor="middle">10<tspan font-size="5.8" dx="0.5" dy="-3.6">-4</tspan></text>
<circle cx="410.6" cy="413.5" r="3.4" fill="#6aa653" stroke="none"/>
<circle cx="420.8" cy="414.6" r="3.4" fill="#6aa653" stroke="none"/>
<circle cx="426.1" cy="412.8" r="3.4" fill="#6aa653" stroke="none"/>
<circle cx="438.1" cy="410" r="3.4" fill="#6aa653" stroke="none"/>
<circle cx="436.3" cy="415.6" r="3.4" fill="#6aa653" stroke="none"/>
<circle cx="425" cy="419.3" r="3.4" fill="#6aa653" stroke="none"/>
<circle cx="436" cy="420.1" r="3.4" fill="#6aa653" stroke="none"/>
<circle cx="430.6" cy="424.2" r="3.4" fill="#6aa653" stroke="none"/>
<circle cx="439.2" cy="428.9" r="3.4" fill="#6aa653" stroke="none"/>
<circle cx="447.2" cy="432.4" r="3.4" fill="#6aa653" stroke="none"/>
<circle cx="427.3" cy="434.3" r="3.4" fill="#6aa653" stroke="none"/>
<circle cx="441" cy="441.1" r="3.4" fill="#6aa653" stroke="none"/>
<circle cx="434.9" cy="445.1" r="3.4" fill="#6aa653" stroke="none"/>
<circle cx="447.2" cy="445.8" r="3.4" fill="#6aa653" stroke="none"/>
<circle cx="455.7" cy="447.2" r="3.4" fill="#6aa653" stroke="none"/>
<circle cx="433.9" cy="451.8" r="3.4" fill="#6aa653" stroke="none"/>
<circle cx="463.8" cy="427.5" r="3.4" fill="#6aa653" stroke="none"/>
<circle cx="492.2" cy="464" r="3.4" fill="#6aa653" stroke="none"/>
<circle cx="467.2" cy="474.7" r="3.4" fill="#6aa653" stroke="none"/>
<circle cx="481.4" cy="473.9" r="3.4" fill="#6aa653" stroke="none"/>
<circle cx="484.3" cy="477.9" r="3.4" fill="#6aa653" stroke="none"/>
<text transform="translate(31.2,74.9) rotate(-90)" x="0" y="0" font-size="10.2" text-anchor="middle" textLength="49.8" lengthAdjust="spacingAndGlyphs">venetoclax</text>
<text transform="translate(47.0,74.9) rotate(-90)" x="0" y="0" font-size="10.2" text-anchor="middle" textLength="64.3" lengthAdjust="spacingAndGlyphs">BCL2 / tubulin</text>
<text transform="translate(211.2,77.2) rotate(-90)" x="0" y="0" font-size="10.2" text-anchor="middle" textLength="51" lengthAdjust="spacingAndGlyphs">BCL2 RPKM</text>
<text transform="translate(364.3,76.9) rotate(-90)" x="0" y="0" font-size="10.2" text-anchor="middle" textLength="79" lengthAdjust="spacingAndGlyphs">rel. cytochrome c</text>
<text transform="translate(376.6,75.9) rotate(-90)" x="0" y="0" font-size="10.2" text-anchor="middle" textLength="84.2" lengthAdjust="spacingAndGlyphs">release (BAD-HRK)</text>
<text transform="translate(31.0,250.7) rotate(-90)" x="0" y="0" font-size="10.2" text-anchor="middle" textLength="46.4" lengthAdjust="spacingAndGlyphs">navitoclax</text>
<text transform="translate(46.4,251.5) rotate(-90)" x="0" y="0" font-size="10.2" text-anchor="middle" textLength="103.8" lengthAdjust="spacingAndGlyphs">(BCL2+BCL-xL)/tubulin</text>
<text transform="translate(206.0,250.7) rotate(-90)" x="0" y="0" font-size="10.4" text-anchor="middle" textLength="92.6" lengthAdjust="spacingAndGlyphs">BCL2+BCL2L1 RPKM</text>
<text transform="translate(364.3,251.9) rotate(-90)" x="0" y="0" font-size="10.2" text-anchor="middle" textLength="79" lengthAdjust="spacingAndGlyphs">rel. cytochrome c</text>
<text transform="translate(376.6,250.7) rotate(-90)" x="0" y="0" font-size="10.2" text-anchor="middle" textLength="60.7" lengthAdjust="spacingAndGlyphs">release (BAD)</text>
<text transform="translate(31.3,427.2) rotate(-90)" x="0" y="0" font-size="10.2" text-anchor="middle" textLength="41.6" lengthAdjust="spacingAndGlyphs">AZD5991</text>
<text transform="translate(46.6,426.8) rotate(-90)" x="0" y="0" font-size="10.2" text-anchor="middle" textLength="67.9" lengthAdjust="spacingAndGlyphs">MCL1 / tubulin</text>
<text transform="translate(206.0,426.8) rotate(-90)" x="0" y="0" font-size="10.4" text-anchor="middle" textLength="54.3" lengthAdjust="spacingAndGlyphs">MCL1 RPKM</text>
<text transform="translate(364.3,427.3) rotate(-90)" x="0" y="0" font-size="10.2" text-anchor="middle" textLength="79" lengthAdjust="spacingAndGlyphs">rel. cytochrome c</text>
<text transform="translate(376.6,426.8) rotate(-90)" x="0" y="0" font-size="10.2" text-anchor="middle" textLength="61.1" lengthAdjust="spacingAndGlyphs">release (MS1)</text>
<text x="74.5" y="158.4" font-size="10.4" textLength="105.0" lengthAdjust="spacingAndGlyphs">IC50 [logM] venetoclax</text>
<text x="107.9" y="174.8" font-size="8.2" textLength="38.0" lengthAdjust="spacingAndGlyphs">r = -0.6129</text>
<text x="108.2" y="185.3" font-size="8.2" textLength="37.0" lengthAdjust="spacingAndGlyphs">p = 0.0031</text>
<text x="234.25" y="158.4" font-size="10.4" textLength="105.25" lengthAdjust="spacingAndGlyphs">IC50 [logM] venetoclax</text>
<text x="267.5" y="174.8" font-size="8.2" textLength="38.75" lengthAdjust="spacingAndGlyphs">r = -0.6234</text>
<text x="268" y="185.3" font-size="8.2" textLength="37" lengthAdjust="spacingAndGlyphs">p = 0.0035</text>
<text x="402.5" y="158.4" font-size="10.4" textLength="105.0" lengthAdjust="spacingAndGlyphs">IC50 [logM] venetoclax</text>
<text x="436.25" y="174.8" font-size="8.2" textLength="38.0" lengthAdjust="spacingAndGlyphs">r = -0.8565</text>
<text x="436.25" y="185.3" font-size="8.2" textLength="37.0" lengthAdjust="spacingAndGlyphs">p &lt; 0.0001</text>
<text x="73.75" y="333.8" font-size="10.4" textLength="102.5" lengthAdjust="spacingAndGlyphs">IC50 [logM] navitoclax</text>
<text x="105.9" y="350.2" font-size="8.2" textLength="37.9" lengthAdjust="spacingAndGlyphs">r = -0.1494</text>
<text x="106.2" y="360.7" font-size="8.2" textLength="37.4" lengthAdjust="spacingAndGlyphs">p = 0.5182</text>
<text x="235.5" y="333.8" font-size="10.4" textLength="102.0" lengthAdjust="spacingAndGlyphs">IC50 [logM] navitoclax</text>
<text x="267.5" y="350.2" font-size="8.2" textLength="37.5" lengthAdjust="spacingAndGlyphs">r = -0.6701</text>
<text x="268" y="360.7" font-size="8.2" textLength="37" lengthAdjust="spacingAndGlyphs">p = 0.0009</text>
<text x="403.75" y="333.8" font-size="10.4" textLength="102.5" lengthAdjust="spacingAndGlyphs">IC50 [logM] navitoclax</text>
<text x="436.25" y="350.2" font-size="8.2" textLength="38.0" lengthAdjust="spacingAndGlyphs">r = -0.8176</text>
<text x="436.25" y="360.7" font-size="8.2" textLength="37.0" lengthAdjust="spacingAndGlyphs">p &lt; 0.0001</text>
<text x="76.25" y="509.15" font-size="10.4" textLength="96.25" lengthAdjust="spacingAndGlyphs">IC50 [logM] AZD5991</text>
<text x="103.9" y="525.55" font-size="8.2" textLength="42.0" lengthAdjust="spacingAndGlyphs">r = -0.01818</text>
<text x="106.2" y="536.05" font-size="8.2" textLength="37.4" lengthAdjust="spacingAndGlyphs">p = 0.9377</text>
<text x="238" y="509.15" font-size="10.4" textLength="96.5" lengthAdjust="spacingAndGlyphs">IC50 [logM] AZD5991</text>
<text x="268" y="525.55" font-size="8.2" textLength="37.5" lengthAdjust="spacingAndGlyphs">r = -0.5143</text>
<text x="268" y="536.05" font-size="8.2" textLength="37" lengthAdjust="spacingAndGlyphs">p = 0.0171</text>
<text x="407" y="509.15" font-size="10.4" textLength="96" lengthAdjust="spacingAndGlyphs">IC50 [logM] AZD5991</text>
<text x="436.25" y="525.55" font-size="8.2" textLength="38.0" lengthAdjust="spacingAndGlyphs">r = -0.7208</text>
<text x="436.25" y="536.05" font-size="8.2" textLength="37.0" lengthAdjust="spacingAndGlyphs">p = 0.0002</text>
<line x1="72.5" y1="580.4" x2="72.5" y2="683.55" stroke="#1a1a1a" stroke-width="1.3"/>
<line x1="71.95" y1="683.55" x2="175.5" y2="683.55" stroke="#1a1a1a" stroke-width="1.3"/>
<text x="65.4" y="686.25" font-size="9.4" text-anchor="end" textLength="4.4" lengthAdjust="spacingAndGlyphs">0</text>
<line x1="72.5" y1="683.55" x2="72.5" y2="686.75" stroke="#1a1a1a" stroke-width="1.3"/>
<text x="73.0" y="698.3" font-size="8.8" text-anchor="middle" textLength="4.4" lengthAdjust="spacingAndGlyphs">0</text>
<text x="65.4" y="639.975" font-size="9.4" text-anchor="end" textLength="8.8" lengthAdjust="spacingAndGlyphs">50</text>
<line x1="119.1" y1="683.55" x2="119.1" y2="686.75" stroke="#1a1a1a" stroke-width="1.3"/>
<text x="119.6" y="698.3" font-size="8.8" text-anchor="middle" textLength="8.8" lengthAdjust="spacingAndGlyphs">50</text>
<text x="65.4" y="593.7" font-size="9.4" text-anchor="end" textLength="13.2" lengthAdjust="spacingAndGlyphs">100</text>
<line x1="165.7" y1="683.55" x2="165.7" y2="686.75" stroke="#1a1a1a" stroke-width="1.3"/>
<text x="166.2" y="698.3" font-size="8.8" text-anchor="middle" textLength="13.2" lengthAdjust="spacingAndGlyphs">100</text>
<polyline points="72.5,683.55 72.5,591.0 165.7,591.0" fill="none" stroke="#6aa653" stroke-width="1.6"/>
<circle cx="72.5" cy="683.55" r="3.3" fill="#6aa653" stroke="none"/>
<circle cx="72.5" cy="660.4124999999999" r="3.3" fill="#6aa653" stroke="none"/>
<circle cx="72.5" cy="637.275" r="3.3" fill="#6aa653" stroke="none"/>
<circle cx="72.5" cy="614.1375" r="3.3" fill="#6aa653" stroke="none"/>
<circle cx="72.5" cy="591.0" r="3.3" fill="#6aa653" stroke="none"/>
<circle cx="77.98235294117647" cy="591.0" r="3.3" fill="#6aa653" stroke="none"/>
<circle cx="83.46470588235294" cy="591.0" r="3.3" fill="#6aa653" stroke="none"/>
<circle cx="88.9470588235294" cy="591.0" r="3.3" fill="#6aa653" stroke="none"/>
<circle cx="94.42941176470588" cy="591.0" r="3.3" fill="#6aa653" stroke="none"/>
<circle cx="99.91176470588235" cy="591.0" r="3.3" fill="#6aa653" stroke="none"/>
<circle cx="105.39411764705882" cy="591.0" r="3.3" fill="#6aa653" stroke="none"/>
<circle cx="110.87647058823529" cy="591.0" r="3.3" fill="#6aa653" stroke="none"/>
<circle cx="116.35882352941175" cy="591.0" r="3.3" fill="#6aa653" stroke="none"/>
<circle cx="121.84117647058824" cy="591.0" r="3.3" fill="#6aa653" stroke="none"/>
<circle cx="127.3235294117647" cy="591.0" r="3.3" fill="#6aa653" stroke="none"/>
<circle cx="132.80588235294118" cy="591.0" r="3.3" fill="#6aa653" stroke="none"/>
<circle cx="138.28823529411764" cy="591.0" r="3.3" fill="#6aa653" stroke="none"/>
<circle cx="143.7705882352941" cy="591.0" r="3.3" fill="#6aa653" stroke="none"/>
<circle cx="149.25294117647059" cy="591.0" r="3.3" fill="#6aa653" stroke="none"/>
<circle cx="154.73529411764704" cy="591.0" r="3.3" fill="#6aa653" stroke="none"/>
<circle cx="160.2176470588235" cy="591.0" r="3.3" fill="#6aa653" stroke="none"/>
<circle cx="165.7" cy="591.0" r="3.3" fill="#6aa653" stroke="none"/>
<text transform="translate(43.8,637) rotate(-90)" x="0" y="0" font-size="10.2" text-anchor="middle" textLength="55.8" lengthAdjust="spacingAndGlyphs">Sensitivity%</text>
<text x="80.3" y="714.3" font-size="10.4" textLength="87.7" lengthAdjust="spacingAndGlyphs">100% - specificity%</text>
<text x="110.2" y="730.6" font-size="8.2" textLength="27.2" lengthAdjust="spacingAndGlyphs">AUC = 1</text>
<text x="105.9" y="740.9" font-size="8.2" textLength="36.3" lengthAdjust="spacingAndGlyphs">p = 0.0023</text>
<line x1="244.4" y1="557.7" x2="244.4" y2="684.05" stroke="#1a1a1a" stroke-width="1.3"/>
<line x1="243.85" y1="683.5" x2="368" y2="683.5" stroke="#1a1a1a" stroke-width="1.3"/>
<line x1="241.0" y1="560.0" x2="244.4" y2="560.0" stroke="#1a1a1a" stroke-width="1.3"/>
<text x="237.5" y="562.7" font-size="9.4" text-anchor="end" textLength="11.0" lengthAdjust="spacingAndGlyphs">0.5</text>
<line x1="241.0" y1="590.875" x2="244.4" y2="590.875" stroke="#1a1a1a" stroke-width="1.3"/>
<text x="237.5" y="593.575" font-size="9.4" text-anchor="end" textLength="11.0" lengthAdjust="spacingAndGlyphs">0.0</text>
<line x1="241.0" y1="621.75" x2="244.4" y2="621.75" stroke="#1a1a1a" stroke-width="1.3"/>
<text x="237.5" y="624.45" font-size="9.4" text-anchor="end" textLength="13.8" lengthAdjust="spacingAndGlyphs">-0.5</text>
<line x1="241.0" y1="652.625" x2="244.4" y2="652.625" stroke="#1a1a1a" stroke-width="1.3"/>
<text x="237.5" y="655.325" font-size="9.4" text-anchor="end" textLength="13.8" lengthAdjust="spacingAndGlyphs">-1.0</text>
<line x1="241.0" y1="683.5" x2="244.4" y2="683.5" stroke="#1a1a1a" stroke-width="1.3"/>
<text x="237.5" y="686.2" font-size="9.4" text-anchor="end" textLength="13.8" lengthAdjust="spacingAndGlyphs">-1.5</text>
<line x1="244.4" y1="683.5" x2="244.4" y2="686.7" stroke="#1a1a1a" stroke-width="1.3"/>
<text x="244.6" y="698.4" font-size="8.8" text-anchor="middle" textLength="11.0" lengthAdjust="spacingAndGlyphs">0.0</text>
<line x1="300.25" y1="683.5" x2="300.25" y2="686.7" stroke="#1a1a1a" stroke-width="1.3"/>
<text x="300.45" y="698.4" font-size="8.8" text-anchor="middle" textLength="11.0" lengthAdjust="spacingAndGlyphs">0.5</text>
<line x1="356.1" y1="683.5" x2="356.1" y2="686.7" stroke="#1a1a1a" stroke-width="1.3"/>
<text x="356.3" y="698.4" font-size="8.8" text-anchor="middle" textLength="11.0" lengthAdjust="spacingAndGlyphs">1.0</text>
<polygon points="250.0,599.8000000000001 255.0,599.8000000000001 252.5,595.4" fill="#a51932" stroke="none"/>
<rect x="246.3" y="604.9" width="6.0" height="6.0" fill="#465f87" stroke="none"/>
<rect x="243.1" y="617.0" width="6.0" height="6.0" fill="#465f87" stroke="none"/>
<rect x="259.7" y="619.8" width="6.0" height="6.0" fill="#465f87" stroke="none"/>
<rect x="262.1" y="625.4" width="6.0" height="6.0" fill="#465f87" stroke="none"/>
<rect x="245.5" y="646.1" width="6.0" height="6.0" fill="#465f87" stroke="none"/>
<rect x="271.0" y="646.6" width="6.0" height="6.0" fill="#465f87" stroke="none"/>
<rect x="314.7" y="657.8" width="6.0" height="6.0" fill="#465f87" stroke="none"/>
<polygon points="270.9,609.15 277.9,609.15 274.4,602.85" fill="#a51932" stroke="none"/>
<polygon points="318.1,641.25 325.1,641.25 321.6,634.95" fill="#a51932" stroke="none"/>
<polygon points="325.7,635.9499999999999 332.7,635.9499999999999 329.2,629.65" fill="#a51932" stroke="none"/>
<polygon points="338.2,642.4499999999999 345.2,642.4499999999999 341.7,636.15" fill="#a51932" stroke="none"/>
<polygon points="331.5,649.35 338.5,649.35 335.0,643.0500000000001" fill="#a51932" stroke="none"/>
<polygon points="348.1,635.9499999999999 355.1,635.9499999999999 351.6,629.65" fill="#a51932" stroke="none"/>
<polygon points="355.0,662.05 362.0,662.05 358.5,655.75" fill="#a51932" stroke="none"/>
<circle cx="247.8" cy="596.9" r="3.45" fill="#e0963c" stroke="none"/>
<circle cx="249.5" cy="591.7" r="3.45" fill="#e0963c" stroke="none"/>
<circle cx="252.1" cy="591.7" r="3.45" fill="#e0963c" stroke="none"/>
<circle cx="256.9" cy="596.0" r="3.45" fill="#e0963c" stroke="none"/>
<circle cx="264.7" cy="593.8" r="3.45" fill="#e0963c" stroke="none"/>
<circle cx="273.3" cy="591.7" r="3.45" fill="#e0963c" stroke="none"/>
<line x1="247.1" y1="591.4" x2="368.2" y2="591.4" stroke="#111" stroke-width="1.35" stroke-dasharray="1.35 2.35"/>
<text transform="translate(215.0,620.2) rotate(-90)" x="0" y="0" font-size="10.4" text-anchor="middle" textLength="28.8" lengthAdjust="spacingAndGlyphs">ZMAD</text>
<text x="249.4" y="713.8" font-size="10.4" textLength="113.2" lengthAdjust="spacingAndGlyphs">rel. cytochrome c release</text>
<circle cx="382.4" cy="568" r="3.85" fill="#e0963c" stroke="none"/>
<rect x="378.85" y="580.5500000000001" width="7.3" height="7.3" fill="#465f87" stroke="none"/>
<polygon points="378.7,604.2 386.3,604.2 382.5,597.0" fill="#a51932" stroke="none"/>
<text x="390.1" y="571.2" font-size="9.8" textLength="17.5" lengthAdjust="spacingAndGlyphs">BCL2</text>
<text x="390.1" y="587.1" font-size="9.8" textLength="25.4" lengthAdjust="spacingAndGlyphs">BCL2L1</text>
<text x="390.1" y="603.4" font-size="9.8" textLength="19.4" lengthAdjust="spacingAndGlyphs">MCL1</text>
<text x="378.6" y="618.9" font-size="8.8" textLength="74.1" lengthAdjust="spacingAndGlyphs">r=-0.6152; p= 0.0014</text>
</svg></body></html>
